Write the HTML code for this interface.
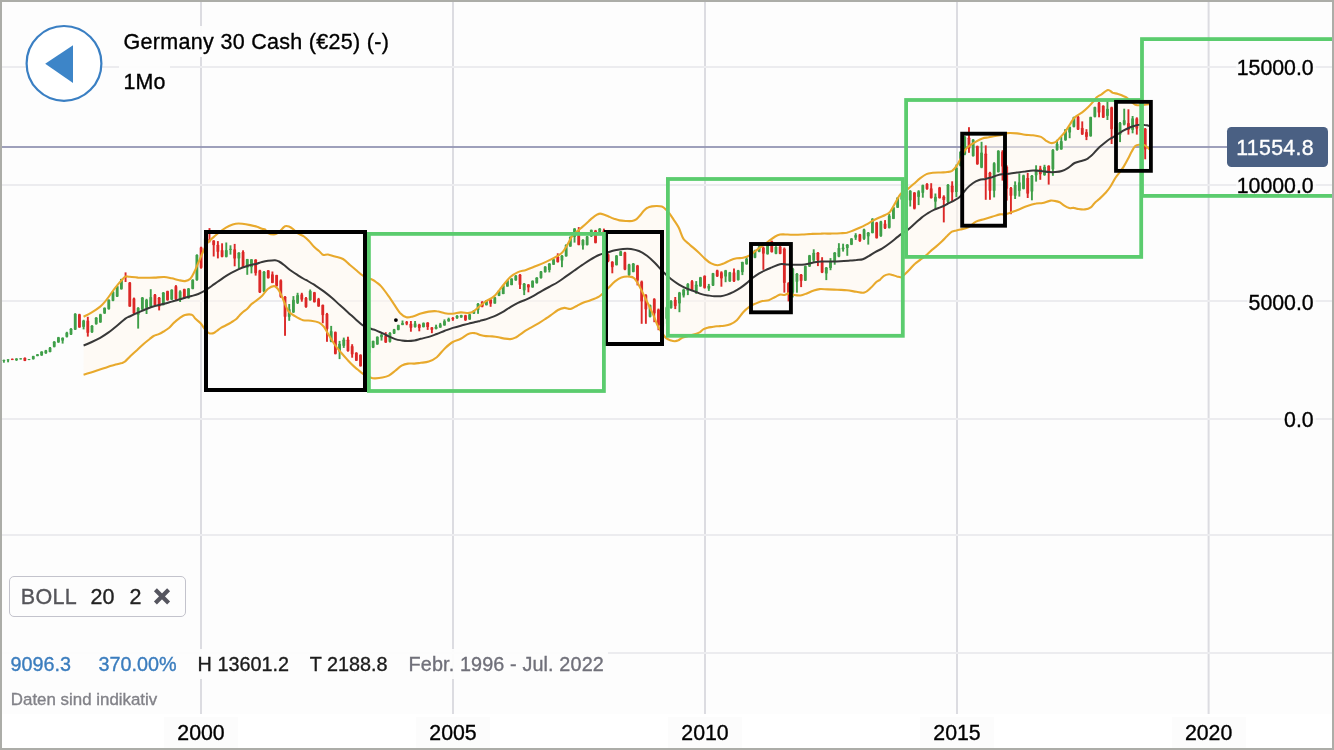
<!DOCTYPE html>
<html><head><meta charset="utf-8"><title>Germany 30 Cash</title>
<style>
html,body{margin:0;padding:0;}
body{width:1334px;height:750px;overflow:hidden;background:#fdfdfd;font-family:"Liberation Sans",sans-serif;position:relative;}
.t{position:absolute;white-space:nowrap;line-height:1;-webkit-text-stroke:0.35px currentColor;}
.ax{font-size:21.3px;color:#000;text-align:right;right:20.3px;width:84px;height:22px;line-height:22px;}
.xl{font-size:21.3px;color:#000;text-align:center;width:74px;background:#fcfcfc;height:32px;line-height:32px;top:716.7px;}
.inf{font-size:19.8px;top:654.6px;}
.bo{font-size:21.5px;top:586.5px;}
</style></head><body>
<div style="position:absolute;left:0;top:714px;width:1334px;height:36px;background:#ffffff"></div>
<svg width="1334" height="750" viewBox="0 0 1334 750" style="position:absolute;left:0;top:0">
<rect x="200.00" y="0" width="2" height="714" fill="#dcdce1"/>
<rect x="452.00" y="0" width="2" height="714" fill="#dcdce1"/>
<rect x="704.00" y="0" width="2" height="714" fill="#dcdce1"/>
<rect x="956.00" y="0" width="2" height="714" fill="#dcdce1"/>
<rect x="1207.60" y="0" width="2" height="714" fill="#dcdce1"/>
<rect x="0" y="66.00" width="1334" height="2" fill="#ececef"/>
<rect x="0" y="184.00" width="1334" height="2" fill="#ececef"/>
<rect x="0" y="300.00" width="1334" height="2" fill="#ececef"/>
<rect x="0" y="418.00" width="1334" height="2" fill="#ececef"/>
<rect x="0" y="534.00" width="1334" height="2" fill="#ececef"/>
<rect x="0" y="652.00" width="1334" height="2" fill="#ececef"/>
<rect x="1236" y="57" width="80" height="20" fill="rgba(253,253,253,0.5)"/>
<rect x="1236" y="175" width="80" height="20" fill="rgba(253,253,253,0.5)"/>
<rect x="1247" y="291" width="69" height="20" fill="rgba(253,253,253,0.5)"/>
<rect x="1281" y="409" width="35" height="20" fill="rgba(253,253,253,0.5)"/>
<rect x="0" y="146.1" width="1230" height="1.8" fill="#9496b4"/>
<polygon points="83.6,316.7 85.6,315.7 87.6,314.6 89.6,313.5 91.6,312.5 93.6,311.1 95.6,309.8 97.6,308.4 99.6,307.0 101.6,305.2 103.6,303.2 105.6,300.9 107.6,298.3 109.6,295.6 111.6,292.7 113.6,290.0 115.6,287.4 117.6,284.9 119.6,282.6 121.6,280.4 123.6,278.4 125.6,276.6 127.6,276.7 129.6,276.8 131.6,277.0 133.6,277.2 135.6,277.4 137.6,277.5 139.6,277.6 141.6,277.7 143.6,277.7 145.6,277.8 147.6,277.8 149.6,277.7 151.6,277.7 153.6,277.6 155.6,277.5 157.6,277.4 159.6,277.3 161.6,277.2 163.6,277.0 165.6,277.3 167.6,277.6 169.6,277.9 171.6,278.3 173.6,278.8 175.6,279.3 177.6,279.8 179.6,280.2 181.6,280.5 183.6,280.8 185.6,280.8 187.6,279.9 189.6,279.0 191.6,276.5 193.6,273.2 195.6,269.0 197.6,264.3 199.6,259.7 201.6,255.0 203.6,250.6 205.6,246.2 207.6,243.2 209.6,240.8 211.6,238.9 213.6,237.1 215.6,235.4 217.6,233.8 219.6,232.2 221.6,230.6 223.6,229.2 225.6,228.0 227.6,226.8 229.6,225.8 231.6,225.1 233.6,224.4 235.6,223.8 237.6,223.7 239.6,223.7 241.6,223.7 243.6,223.9 245.6,224.3 247.6,224.6 249.6,224.9 251.6,225.4 253.6,225.9 255.6,226.4 257.6,227.0 259.6,227.8 261.6,228.6 263.6,229.1 265.6,230.1 267.6,232.5 269.6,233.4 271.6,233.9 273.6,234.4 275.6,233.9 277.6,233.1 279.6,231.4 281.6,229.4 283.6,227.5 285.6,226.2 287.6,226.4 289.6,226.9 291.6,228.1 293.6,229.6 295.6,231.4 297.6,233.2 299.6,234.3 301.6,235.3 303.6,236.3 305.6,238.0 307.6,239.8 309.6,241.7 311.6,244.0 313.6,246.3 315.6,248.2 317.6,249.8 319.6,251.6 321.6,253.5 323.6,254.8 325.6,254.6 327.6,254.5 329.6,255.0 331.6,255.5 333.6,256.1 335.6,256.7 337.6,257.3 339.6,257.9 341.6,258.6 343.6,259.5 345.6,261.2 347.6,263.0 349.6,264.7 351.6,266.3 353.6,268.0 355.6,269.7 357.6,271.3 359.6,273.0 361.6,274.7 363.6,276.0 365.6,277.3 367.6,278.0 369.6,278.7 371.6,279.4 373.6,280.5 375.6,281.8 377.6,283.4 379.6,285.1 381.6,287.0 383.6,289.6 385.6,292.2 387.6,294.8 389.6,297.6 391.6,300.6 393.6,303.6 395.6,306.5 397.6,309.4 399.6,312.3 401.6,314.0 403.6,315.3 405.6,316.7 407.6,317.0 409.6,316.8 411.6,316.5 413.6,316.1 415.6,315.4 417.6,314.7 419.6,313.9 421.6,313.3 423.6,312.8 425.6,312.4 427.6,311.9 429.6,311.6 431.6,311.5 433.6,311.4 435.6,311.3 437.6,311.5 439.6,312.0 441.6,312.4 443.6,312.9 445.6,313.2 447.6,313.4 449.6,313.5 451.6,313.6 453.6,313.6 455.6,313.2 457.6,312.9 459.6,312.6 461.6,312.4 463.6,312.6 465.6,312.7 467.6,312.8 469.6,312.6 471.6,311.9 473.6,311.3 475.6,309.6 477.6,308.0 479.6,306.3 481.6,304.7 483.6,303.1 485.6,301.5 487.6,300.2 489.6,299.0 491.6,297.8 493.6,296.6 495.6,294.5 497.6,292.1 499.6,289.7 501.6,287.3 503.6,284.9 505.6,282.5 507.6,280.1 509.6,277.7 511.6,276.2 513.6,274.9 515.6,273.6 517.6,272.3 519.6,271.7 521.6,271.1 523.6,270.6 525.6,270.1 527.6,269.4 529.6,268.6 531.6,267.8 533.6,267.0 535.6,266.2 537.6,265.4 539.6,264.6 541.6,263.8 543.6,262.9 545.6,261.9 547.6,261.0 549.6,260.1 551.6,259.0 553.6,258.0 555.6,256.9 557.6,255.8 559.6,254.4 561.6,252.8 563.6,250.6 565.6,247.5 567.6,244.4 569.6,240.7 571.6,237.0 573.6,234.5 575.6,232.8 577.6,231.1 579.6,229.3 581.6,227.6 583.6,225.8 585.6,224.0 587.6,222.2 589.6,220.4 591.6,218.6 593.6,217.1 595.6,215.7 597.6,214.5 599.6,213.8 601.6,214.0 603.6,214.6 605.6,215.3 607.6,216.1 609.6,216.9 611.6,217.8 613.6,218.6 615.6,219.2 617.6,219.8 619.6,220.4 621.6,220.6 623.6,220.8 625.6,221.0 627.6,221.0 629.6,221.0 631.6,221.0 633.6,220.4 635.6,219.6 637.6,218.1 639.6,215.8 641.6,213.4 643.6,210.9 645.6,209.2 647.6,207.7 649.6,207.1 651.6,206.4 653.6,206.2 655.6,206.1 657.6,206.2 659.6,206.4 661.6,206.6 663.6,207.8 665.6,209.2 667.6,211.4 669.6,213.6 671.6,216.5 673.6,219.5 675.6,222.6 677.6,225.8 679.6,229.6 681.6,234.4 683.6,238.8 685.6,240.7 687.6,242.6 689.6,244.5 691.6,246.3 693.6,248.0 695.6,249.8 697.6,251.5 699.6,253.4 701.6,255.4 703.6,257.4 705.6,259.2 707.6,260.7 709.6,262.2 711.6,263.5 713.6,264.1 715.6,264.7 717.6,265.3 719.6,264.7 721.6,264.1 723.6,263.5 725.6,262.6 727.6,261.6 729.6,260.6 731.6,259.8 733.6,259.2 735.6,258.6 737.6,258.2 739.6,258.1 741.6,257.9 743.6,257.6 745.6,256.9 747.6,256.1 749.6,255.4 751.6,253.9 753.6,252.4 755.6,250.9 757.6,249.4 759.6,247.9 761.6,246.4 763.6,244.9 765.6,243.4 767.6,241.9 769.6,240.4 771.6,239.0 773.6,237.6 775.6,236.4 777.6,235.6 779.6,234.8 781.6,234.5 783.6,234.4 785.6,234.4 787.6,234.5 789.6,234.6 791.6,234.6 793.6,234.7 795.6,234.6 797.6,234.6 799.6,234.6 801.6,234.5 803.6,234.4 805.6,234.3 807.6,234.1 809.6,234.0 811.6,233.9 813.6,233.8 815.6,233.7 817.6,233.7 819.6,233.6 821.6,233.6 823.6,233.6 825.6,233.6 827.6,233.6 829.6,233.6 831.6,233.5 833.6,233.5 835.6,233.4 837.6,233.3 839.6,233.3 841.6,233.1 843.6,233.0 845.6,232.8 847.6,232.5 849.6,231.8 851.6,231.1 853.6,230.3 855.6,229.5 857.6,228.6 859.6,227.8 861.6,226.8 863.6,225.8 865.6,224.8 867.6,223.7 869.6,222.5 871.6,221.4 873.6,220.3 875.6,219.3 877.6,218.3 879.6,217.4 881.6,216.5 883.6,215.7 885.6,214.7 887.6,213.4 889.6,212.1 891.6,209.1 893.6,205.7 895.6,202.3 897.6,198.9 899.6,195.6 901.6,193.1 903.6,191.7 905.6,190.4 907.6,189.1 909.6,187.4 911.6,185.7 913.6,184.0 915.6,182.2 917.6,180.5 919.6,178.7 921.6,177.3 923.6,176.0 925.6,174.6 927.6,173.8 929.6,173.4 931.6,173.0 933.6,172.8 935.6,172.7 937.6,172.6 939.6,172.5 941.6,172.4 943.6,172.3 945.6,172.1 947.6,171.9 949.6,171.4 951.6,171.0 953.6,169.1 955.6,166.9 957.6,164.2 959.6,160.7 961.6,156.8 963.6,152.8 965.6,149.6 967.6,147.6 969.6,145.6 971.6,144.3 973.6,143.1 975.6,141.8 977.6,140.8 979.6,139.8 981.6,138.8 983.6,138.2 985.6,137.8 987.6,137.5 989.6,137.1 991.6,136.7 993.6,136.3 995.6,135.9 997.6,135.6 999.6,135.3 1001.6,134.7 1003.6,134.2 1005.6,133.6 1007.6,133.1 1009.6,133.2 1011.6,133.2 1013.6,133.3 1015.6,133.4 1017.6,133.5 1019.6,133.8 1021.6,134.1 1023.6,134.5 1025.6,134.7 1027.6,134.9 1029.6,135.0 1031.6,135.2 1033.6,135.4 1035.6,135.8 1037.6,136.2 1039.6,136.6 1041.6,137.4 1043.6,138.9 1045.6,140.5 1047.6,141.5 1049.6,142.5 1051.6,142.8 1053.6,142.5 1055.6,142.0 1057.6,140.0 1059.6,138.0 1061.6,135.8 1063.6,133.4 1065.6,130.9 1067.6,127.9 1069.6,124.9 1071.6,121.9 1073.6,118.9 1075.6,116.7 1077.6,115.4 1079.6,114.1 1081.6,112.7 1083.6,111.1 1085.6,109.4 1087.6,107.7 1089.6,105.6 1091.6,103.4 1093.6,101.2 1095.6,98.7 1097.6,96.7 1099.6,95.5 1101.6,94.2 1103.6,92.9 1105.6,91.6 1107.6,90.3 1109.6,90.9 1111.6,92.1 1113.6,92.9 1115.6,93.4 1117.6,93.9 1119.6,94.6 1121.6,95.4 1123.6,96.1 1125.6,97.1 1127.6,98.3 1129.6,100.3 1131.6,102.2 1133.6,103.5 1135.6,104.7 1137.6,105.0 1139.6,105.3 1141.6,105.0 1143.6,104.8 1145.6,104.6 1147.6,104.3 1147.6,147.7 1145.6,145.9 1143.6,145.0 1141.6,144.8 1139.6,144.7 1137.6,145.2 1135.6,145.9 1133.6,148.7 1131.6,151.8 1129.6,155.7 1127.6,159.6 1125.6,163.2 1123.6,166.7 1121.6,169.5 1119.6,172.3 1117.6,174.9 1115.6,177.5 1113.6,180.9 1111.6,184.4 1109.6,187.7 1107.6,190.2 1105.6,192.7 1103.6,194.8 1101.6,196.8 1099.6,198.8 1097.6,200.5 1095.6,202.1 1093.6,204.1 1091.6,206.4 1089.6,207.7 1087.6,208.5 1085.6,209.2 1083.6,209.3 1081.6,209.2 1079.6,209.1 1077.6,208.8 1075.6,208.3 1073.6,207.9 1071.6,208.0 1069.6,208.1 1067.6,207.3 1065.6,206.3 1063.6,205.2 1061.6,203.7 1059.6,202.3 1057.6,201.6 1055.6,201.2 1053.6,201.0 1051.6,200.7 1049.6,200.9 1047.6,201.5 1045.6,202.1 1043.6,202.7 1041.6,203.1 1039.6,203.2 1037.6,203.4 1035.6,203.6 1033.6,204.2 1031.6,204.8 1029.6,205.3 1027.6,205.9 1025.6,206.6 1023.6,207.4 1021.6,208.3 1019.6,209.1 1017.6,209.9 1015.6,210.7 1013.6,211.4 1011.6,212.1 1009.6,212.8 1007.6,213.6 1005.6,214.2 1003.6,214.3 1001.6,214.3 999.6,214.5 997.6,215.1 995.6,215.7 993.6,216.3 991.6,216.9 989.6,217.5 987.6,218.1 985.6,218.7 983.6,219.3 981.6,219.9 979.6,220.5 977.6,221.1 975.6,221.9 973.6,223.3 971.6,224.8 969.6,226.2 967.6,227.4 965.6,228.0 963.6,228.6 961.6,229.2 959.6,229.7 957.6,230.1 955.6,230.6 953.6,231.2 951.6,232.0 949.6,233.8 947.6,235.6 945.6,237.5 943.6,239.5 941.6,241.5 939.6,243.3 937.6,245.2 935.6,246.9 933.6,248.6 931.6,250.3 929.6,252.1 927.6,253.9 925.6,255.7 923.6,257.2 921.6,258.7 919.6,260.2 917.6,261.7 915.6,263.2 913.6,265.2 911.6,267.3 909.6,269.5 907.6,271.5 905.6,273.5 903.6,275.2 901.6,276.7 899.6,276.9 897.6,276.6 895.6,276.0 893.6,275.3 891.6,274.8 889.6,274.4 887.6,274.7 885.6,275.3 883.6,276.2 881.6,278.2 879.6,280.0 877.6,281.2 875.6,282.7 873.6,284.8 871.6,286.9 869.6,288.7 867.6,290.2 865.6,291.7 863.6,292.5 861.6,292.3 859.6,292.1 857.6,291.9 855.6,291.7 853.6,291.3 851.6,291.0 849.6,290.7 847.6,290.3 845.6,290.1 843.6,290.0 841.6,289.9 839.6,289.8 837.6,289.7 835.6,289.7 833.6,289.6 831.6,289.5 829.6,289.5 827.6,289.4 825.6,289.3 823.6,289.2 821.6,289.2 819.6,289.1 817.6,289.6 815.6,290.1 813.6,290.6 811.6,291.4 809.6,292.2 807.6,293.1 805.6,293.8 803.6,294.4 801.6,295.1 799.6,295.4 797.6,295.3 795.6,295.1 793.6,294.9 791.6,294.3 789.6,293.6 787.6,293.9 785.6,294.6 783.6,294.9 781.6,294.7 779.6,294.8 777.6,295.8 775.6,296.8 773.6,297.8 771.6,298.8 769.6,299.8 767.6,300.3 765.6,300.6 763.6,300.8 761.6,301.3 759.6,302.0 757.6,302.8 755.6,303.6 753.6,304.6 751.6,305.6 749.6,306.6 747.6,308.3 745.6,310.1 743.6,311.8 741.6,314.2 739.6,316.7 737.6,319.2 735.6,320.9 733.6,322.2 731.6,323.4 729.6,324.4 727.6,324.9 725.6,325.4 723.6,325.8 721.6,326.0 719.6,326.1 717.6,326.2 715.6,326.5 713.6,326.8 711.6,327.1 709.6,327.4 707.6,327.7 705.6,328.4 703.6,329.2 701.6,330.8 699.6,332.3 697.6,333.2 695.6,333.9 693.6,334.5 691.6,335.1 689.6,335.7 687.6,336.2 685.6,336.8 683.6,337.4 681.6,338.1 679.6,339.5 677.6,340.5 675.6,341.0 673.6,341.0 671.6,340.7 669.6,339.8 667.6,338.7 665.6,337.7 663.6,334.9 661.6,331.9 659.6,329.0 657.6,325.4 655.6,320.5 653.6,315.6 651.6,311.4 649.6,307.1 647.6,303.0 645.6,298.8 643.6,294.6 641.6,290.6 639.6,286.6 637.6,283.3 635.6,280.3 633.6,278.0 631.6,277.3 629.6,276.7 627.6,276.8 625.6,277.0 623.6,277.2 621.6,277.4 619.6,278.5 617.6,279.8 615.6,281.0 613.6,282.8 611.6,284.8 609.6,286.8 607.6,288.8 605.6,290.8 603.6,292.8 601.6,294.4 599.6,296.1 597.6,297.2 595.6,298.0 593.6,298.9 591.6,299.7 589.6,300.5 587.6,301.2 585.6,301.8 583.6,302.5 581.6,303.5 579.6,304.5 577.6,305.5 575.6,306.5 573.6,307.5 571.6,308.5 569.6,308.7 567.6,308.4 565.6,308.1 563.6,308.2 561.6,308.8 559.6,309.5 557.6,310.3 555.6,311.8 553.6,313.2 551.6,314.7 549.6,316.1 547.6,317.5 545.6,318.8 543.6,320.1 541.6,321.4 539.6,322.7 537.6,323.8 535.6,325.0 533.6,326.1 531.6,327.2 529.6,328.4 527.6,329.5 525.6,330.7 523.6,332.1 521.6,333.5 519.6,334.9 517.6,336.2 515.6,337.4 513.6,338.2 511.6,338.7 509.6,339.1 507.6,338.9 505.6,338.7 503.6,338.3 501.6,337.9 499.6,337.5 497.6,337.2 495.6,336.9 493.6,336.6 491.6,336.4 489.6,336.3 487.6,336.2 485.6,336.1 483.6,335.6 481.6,335.2 479.6,334.7 477.6,334.0 475.6,333.3 473.6,333.3 471.6,333.5 469.6,333.6 467.6,334.4 465.6,335.7 463.6,337.0 461.6,338.3 459.6,339.3 457.6,340.1 455.6,340.9 453.6,341.7 451.6,343.0 449.6,344.6 447.6,346.2 445.6,347.8 443.6,349.7 441.6,351.9 439.6,354.1 437.6,356.3 435.6,357.8 433.6,358.9 431.6,360.0 429.6,361.1 427.6,361.7 425.6,362.0 423.6,362.4 421.6,362.7 419.6,362.9 417.6,363.2 415.6,363.4 413.6,363.6 411.6,363.6 409.6,363.6 407.6,363.7 405.6,364.4 403.6,365.0 401.6,365.7 399.6,367.3 397.6,368.9 395.6,370.5 393.6,372.0 391.6,373.5 389.6,375.0 387.6,376.0 385.6,376.6 383.6,377.2 381.6,377.6 379.6,377.9 377.6,378.1 375.6,378.4 373.6,378.1 371.6,377.9 369.6,377.1 367.6,376.1 365.6,375.1 363.6,374.1 361.6,372.7 359.6,371.1 357.6,369.4 355.6,367.8 353.6,366.0 351.6,364.0 349.6,362.0 347.6,360.0 345.6,357.7 343.6,355.5 341.6,353.2 339.6,350.8 337.6,348.3 335.6,345.8 333.6,342.7 331.6,339.5 329.6,336.2 327.6,333.0 325.6,329.6 323.6,326.4 321.6,324.8 319.6,323.1 317.6,322.3 315.6,321.8 313.6,321.3 311.6,320.8 309.6,320.6 307.6,320.5 305.6,320.4 303.6,320.2 301.6,319.5 299.6,318.5 297.6,317.5 295.6,316.5 293.6,315.2 291.6,313.7 289.6,312.2 287.6,309.3 285.6,304.9 283.6,300.6 281.6,296.3 279.6,291.9 277.6,289.3 275.6,287.4 273.6,286.4 271.6,287.3 269.6,288.2 267.6,289.2 265.6,291.6 263.6,294.0 261.6,296.3 259.6,297.9 257.6,299.5 255.6,301.1 253.6,302.6 251.6,304.1 249.6,306.2 247.6,308.4 245.6,310.0 243.6,311.5 241.6,313.4 239.6,315.4 237.6,317.6 235.6,319.6 233.6,320.9 231.6,322.2 229.6,323.3 227.6,324.4 225.6,325.5 223.6,326.5 221.6,327.5 219.6,328.9 217.6,330.3 215.6,331.6 213.6,332.8 211.6,333.3 209.6,332.9 207.6,331.9 205.6,329.9 203.6,327.4 201.6,324.6 199.6,322.3 197.6,320.6 195.6,319.0 193.6,316.8 191.6,314.8 189.6,314.8 187.6,314.9 185.6,314.9 183.6,315.7 181.6,316.9 179.6,318.1 177.6,319.7 175.6,321.3 173.6,323.1 171.6,325.2 169.6,327.2 167.6,328.8 165.6,330.1 163.6,331.5 161.6,332.5 159.6,333.6 157.6,334.6 155.6,335.2 153.6,336.0 151.6,337.5 149.6,339.0 147.6,340.7 145.6,342.4 143.6,344.0 141.6,345.8 139.6,347.7 137.6,349.5 135.6,351.3 133.6,353.2 131.6,355.0 129.6,356.9 127.6,358.9 125.6,360.9 123.6,362.1 121.6,363.1 119.6,363.6 117.6,364.1 115.6,364.6 113.6,365.2 111.6,365.8 109.6,366.4 107.6,367.0 105.6,367.7 103.6,368.3 101.6,368.9 99.6,369.5 97.6,370.2 95.6,370.9 93.6,371.6 91.6,372.4 89.6,373.0 87.6,373.6 85.6,374.1 83.6,374.7" fill="rgba(255,248,238,0.55)"/>
<rect x="2.94" y="359.8" width="1.9" height="2.9" fill="#3f9f49"/>
<rect x="2.49" y="359.8" width="2.8" height="1.2" rx="0.7" fill="#3f9f49"/>
<rect x="7.13" y="359.3" width="1.9" height="3.0" fill="#3f9f49"/>
<rect x="6.68" y="359.2" width="2.8" height="1.2" rx="0.7" fill="#3f9f49"/>
<rect x="11.33" y="358.6" width="1.9" height="1.5" fill="#dc2827"/>
<rect x="10.88" y="358.7" width="2.8" height="1.2" rx="0.7" fill="#dc2827"/>
<rect x="15.53" y="358.2" width="1.9" height="2.7" fill="#3f9f49"/>
<rect x="15.08" y="358.4" width="2.8" height="1.9" rx="0.7" fill="#3f9f49"/>
<rect x="19.72" y="358.2" width="1.9" height="1.1" fill="#3f9f49"/>
<rect x="19.27" y="358.2" width="2.8" height="1.2" rx="0.7" fill="#3f9f49"/>
<rect x="23.92" y="357.5" width="1.9" height="3.6" fill="#dc2827"/>
<rect x="23.47" y="357.7" width="2.8" height="3.2" rx="0.7" fill="#dc2827"/>
<rect x="28.11" y="359.1" width="1.9" height="1.0" fill="#3f9f49"/>
<rect x="27.66" y="358.9" width="2.8" height="1.2" rx="0.7" fill="#3f9f49"/>
<rect x="32.31" y="355.8" width="1.9" height="3.7" fill="#3f9f49"/>
<rect x="31.86" y="356.1" width="2.8" height="3.2" rx="0.7" fill="#3f9f49"/>
<rect x="36.51" y="354.0" width="1.9" height="2.3" fill="#3f9f49"/>
<rect x="36.06" y="354.2" width="2.8" height="1.9" rx="0.7" fill="#3f9f49"/>
<rect x="40.70" y="351.3" width="1.9" height="4.5" fill="#3f9f49"/>
<rect x="40.25" y="351.6" width="2.8" height="3.9" rx="0.7" fill="#3f9f49"/>
<rect x="44.90" y="349.9" width="1.9" height="3.8" fill="#3f9f49"/>
<rect x="44.45" y="350.2" width="2.8" height="3.2" rx="0.7" fill="#3f9f49"/>
<rect x="49.09" y="347.0" width="1.9" height="5.3" fill="#3f9f49"/>
<rect x="48.64" y="347.4" width="2.8" height="4.7" rx="0.7" fill="#3f9f49"/>
<rect x="53.29" y="341.2" width="1.9" height="6.2" fill="#3f9f49"/>
<rect x="52.84" y="341.5" width="2.8" height="5.5" rx="0.7" fill="#3f9f49"/>
<rect x="57.49" y="336.9" width="1.9" height="5.9" fill="#3f9f49"/>
<rect x="57.04" y="337.2" width="2.8" height="5.2" rx="0.7" fill="#3f9f49"/>
<rect x="61.68" y="337.4" width="1.9" height="6.2" fill="#3f9f49"/>
<rect x="61.23" y="337.7" width="2.8" height="3.0" rx="0.7" fill="#3f9f49"/>
<rect x="65.88" y="331.8" width="1.9" height="5.7" fill="#3f9f49"/>
<rect x="65.43" y="332.4" width="2.8" height="4.5" rx="0.7" fill="#3f9f49"/>
<rect x="70.07" y="328.2" width="1.9" height="6.8" fill="#3f9f49"/>
<rect x="69.62" y="328.6" width="2.8" height="6.0" rx="0.7" fill="#3f9f49"/>
<rect x="74.27" y="313.2" width="1.9" height="16.7" fill="#3f9f49"/>
<rect x="73.82" y="313.7" width="2.8" height="16.0" rx="0.7" fill="#3f9f49"/>
<rect x="78.47" y="313.8" width="1.9" height="14.0" fill="#dc2827"/>
<rect x="78.02" y="314.2" width="2.8" height="13.3" rx="0.7" fill="#dc2827"/>
<rect x="82.66" y="319.8" width="1.9" height="9.6" fill="#3f9f49"/>
<rect x="82.21" y="320.4" width="2.8" height="6.6" rx="0.7" fill="#3f9f49"/>
<rect x="86.86" y="316.8" width="1.9" height="19.8" fill="#dc2827"/>
<rect x="86.41" y="320.4" width="2.8" height="12.6" rx="0.7" fill="#dc2827"/>
<rect x="91.05" y="325.2" width="1.9" height="7.6" fill="#3f9f49"/>
<rect x="90.60" y="325.6" width="2.8" height="6.8" rx="0.7" fill="#3f9f49"/>
<rect x="95.25" y="317.2" width="1.9" height="7.4" fill="#3f9f49"/>
<rect x="94.80" y="317.5" width="2.8" height="6.7" rx="0.7" fill="#3f9f49"/>
<rect x="99.45" y="313.8" width="1.9" height="9.0" fill="#3f9f49"/>
<rect x="99.00" y="314.2" width="2.8" height="8.3" rx="0.7" fill="#3f9f49"/>
<rect x="103.64" y="307.5" width="1.9" height="6.4" fill="#3f9f49"/>
<rect x="103.19" y="307.8" width="2.8" height="5.6" rx="0.7" fill="#3f9f49"/>
<rect x="107.84" y="299.4" width="1.9" height="10.2" fill="#3f9f49"/>
<rect x="107.39" y="299.8" width="2.8" height="9.5" rx="0.7" fill="#3f9f49"/>
<rect x="112.03" y="291.0" width="1.9" height="10.2" fill="#3f9f49"/>
<rect x="111.58" y="291.4" width="2.8" height="9.5" rx="0.7" fill="#3f9f49"/>
<rect x="116.23" y="285.6" width="1.9" height="11.4" fill="#3f9f49"/>
<rect x="115.78" y="286.0" width="2.8" height="10.7" rx="0.7" fill="#3f9f49"/>
<rect x="120.43" y="278.8" width="1.9" height="10.8" fill="#3f9f49"/>
<rect x="119.98" y="279.1" width="2.8" height="10.1" rx="0.7" fill="#3f9f49"/>
<rect x="124.62" y="272.4" width="1.9" height="9.6" fill="#dc2827"/>
<rect x="124.17" y="276.4" width="2.8" height="1.2" rx="0.7" fill="#dc2827"/>
<rect x="128.82" y="282.0" width="1.9" height="24.8" fill="#dc2827"/>
<rect x="128.37" y="282.4" width="2.8" height="24.2" rx="0.7" fill="#dc2827"/>
<rect x="133.01" y="297.6" width="1.9" height="16.8" fill="#dc2827"/>
<rect x="132.56" y="298.2" width="2.8" height="15.6" rx="0.7" fill="#dc2827"/>
<rect x="137.21" y="307.2" width="1.9" height="21.4" fill="#3f9f49"/>
<rect x="136.76" y="307.8" width="2.8" height="7.2" rx="0.7" fill="#3f9f49"/>
<rect x="141.41" y="297.0" width="1.9" height="13.2" fill="#3f9f49"/>
<rect x="140.96" y="297.6" width="2.8" height="12.0" rx="0.7" fill="#3f9f49"/>
<rect x="145.60" y="298.8" width="1.9" height="15.2" fill="#3f9f49"/>
<rect x="145.15" y="299.7" width="2.8" height="8.2" rx="0.7" fill="#3f9f49"/>
<rect x="149.80" y="289.2" width="1.9" height="18.0" fill="#3f9f49"/>
<rect x="149.35" y="297.0" width="2.8" height="9.6" rx="0.7" fill="#3f9f49"/>
<rect x="153.99" y="294.0" width="1.9" height="11.4" fill="#dc2827"/>
<rect x="153.54" y="294.4" width="2.8" height="10.7" rx="0.7" fill="#dc2827"/>
<rect x="158.19" y="297.0" width="1.9" height="13.4" fill="#dc2827"/>
<rect x="157.74" y="297.6" width="2.8" height="9.0" rx="0.7" fill="#dc2827"/>
<rect x="162.39" y="292.0" width="1.9" height="13.4" fill="#3f9f49"/>
<rect x="161.94" y="292.5" width="2.8" height="12.6" rx="0.7" fill="#3f9f49"/>
<rect x="166.58" y="290.7" width="1.9" height="10.0" fill="#dc2827"/>
<rect x="166.13" y="291.1" width="2.8" height="9.2" rx="0.7" fill="#dc2827"/>
<rect x="170.78" y="289.3" width="1.9" height="10.7" fill="#3f9f49"/>
<rect x="170.33" y="289.7" width="2.8" height="9.9" rx="0.7" fill="#3f9f49"/>
<rect x="174.97" y="285.1" width="1.9" height="14.9" fill="#dc2827"/>
<rect x="174.52" y="286.0" width="2.8" height="13.3" rx="0.7" fill="#dc2827"/>
<rect x="179.17" y="290.3" width="1.9" height="11.7" fill="#3f9f49"/>
<rect x="178.72" y="291.3" width="2.8" height="8.7" rx="0.7" fill="#3f9f49"/>
<rect x="183.37" y="288.7" width="1.9" height="10.0" fill="#dc2827"/>
<rect x="182.92" y="289.1" width="2.8" height="9.2" rx="0.7" fill="#dc2827"/>
<rect x="187.56" y="288.0" width="1.9" height="10.7" fill="#3f9f49"/>
<rect x="187.11" y="288.4" width="2.8" height="9.9" rx="0.7" fill="#3f9f49"/>
<rect x="191.76" y="279.3" width="1.9" height="10.0" fill="#3f9f49"/>
<rect x="191.31" y="279.7" width="2.8" height="9.2" rx="0.7" fill="#3f9f49"/>
<rect x="195.95" y="254.4" width="1.9" height="26.3" fill="#3f9f49"/>
<rect x="195.50" y="254.8" width="2.8" height="25.5" rx="0.7" fill="#3f9f49"/>
<rect x="200.15" y="246.7" width="1.9" height="22.0" fill="#dc2827"/>
<rect x="199.70" y="247.3" width="2.8" height="20.7" rx="0.7" fill="#dc2827"/>
<rect x="204.35" y="236.0" width="1.9" height="20.0" fill="#3f9f49"/>
<rect x="203.90" y="238.0" width="2.8" height="16.9" rx="0.7" fill="#3f9f49"/>
<rect x="208.54" y="228.1" width="1.9" height="14.3" fill="#dc2827"/>
<rect x="208.09" y="239.2" width="2.8" height="1.2" rx="0.7" fill="#dc2827"/>
<rect x="212.74" y="240.2" width="1.9" height="16.3" fill="#dc2827"/>
<rect x="212.29" y="240.4" width="2.8" height="4.9" rx="0.7" fill="#dc2827"/>
<rect x="216.93" y="241.1" width="1.9" height="17.3" fill="#dc2827"/>
<rect x="216.48" y="244.8" width="2.8" height="7.1" rx="0.7" fill="#dc2827"/>
<rect x="221.13" y="243.3" width="1.9" height="14.0" fill="#dc2827"/>
<rect x="220.68" y="250.0" width="2.8" height="7.0" rx="0.7" fill="#dc2827"/>
<rect x="225.33" y="242.5" width="1.9" height="14.9" fill="#3f9f49"/>
<rect x="224.88" y="250.0" width="2.8" height="7.0" rx="0.7" fill="#3f9f49"/>
<rect x="229.52" y="245.3" width="1.9" height="9.3" fill="#3f9f49"/>
<rect x="229.07" y="248.7" width="2.8" height="1.2" rx="0.7" fill="#3f9f49"/>
<rect x="233.72" y="243.9" width="1.9" height="22.4" fill="#dc2827"/>
<rect x="233.27" y="249.3" width="2.8" height="9.3" rx="0.7" fill="#dc2827"/>
<rect x="237.91" y="252.3" width="1.9" height="16.3" fill="#3f9f49"/>
<rect x="237.46" y="252.6" width="2.8" height="6.0" rx="0.7" fill="#3f9f49"/>
<rect x="242.11" y="250.3" width="1.9" height="17.5" fill="#dc2827"/>
<rect x="241.66" y="251.7" width="2.8" height="15.9" rx="0.7" fill="#dc2827"/>
<rect x="246.31" y="258.9" width="1.9" height="15.9" fill="#3f9f49"/>
<rect x="245.86" y="259.1" width="2.8" height="8.7" rx="0.7" fill="#3f9f49"/>
<rect x="250.50" y="259.2" width="1.9" height="14.2" fill="#3f9f49"/>
<rect x="250.05" y="259.3" width="2.8" height="7.9" rx="0.7" fill="#3f9f49"/>
<rect x="254.70" y="259.3" width="1.9" height="16.3" fill="#dc2827"/>
<rect x="254.25" y="259.5" width="2.8" height="13.8" rx="0.7" fill="#dc2827"/>
<rect x="258.89" y="269.8" width="1.9" height="23.2" fill="#dc2827"/>
<rect x="258.44" y="270.3" width="2.8" height="22.2" rx="0.7" fill="#dc2827"/>
<rect x="263.09" y="271.1" width="1.9" height="21.1" fill="#3f9f49"/>
<rect x="262.64" y="271.6" width="2.8" height="20.2" rx="0.7" fill="#3f9f49"/>
<rect x="267.29" y="270.1" width="1.9" height="8.4" fill="#dc2827"/>
<rect x="266.84" y="270.3" width="2.8" height="8.0" rx="0.7" fill="#dc2827"/>
<rect x="271.48" y="271.5" width="1.9" height="11.7" fill="#dc2827"/>
<rect x="271.03" y="274.3" width="2.8" height="8.6" rx="0.7" fill="#dc2827"/>
<rect x="275.68" y="274.8" width="1.9" height="11.7" fill="#dc2827"/>
<rect x="275.23" y="275.0" width="2.8" height="11.2" rx="0.7" fill="#dc2827"/>
<rect x="279.87" y="279.4" width="1.9" height="18.4" fill="#dc2827"/>
<rect x="279.42" y="280.2" width="2.8" height="16.8" rx="0.7" fill="#dc2827"/>
<rect x="284.07" y="296.1" width="1.9" height="39.7" fill="#dc2827"/>
<rect x="283.62" y="296.5" width="2.8" height="20.5" rx="0.7" fill="#dc2827"/>
<rect x="288.27" y="304.0" width="1.9" height="16.8" fill="#3f9f49"/>
<rect x="287.82" y="309.1" width="2.8" height="7.9" rx="0.7" fill="#3f9f49"/>
<rect x="292.46" y="296.1" width="1.9" height="16.8" fill="#3f9f49"/>
<rect x="292.01" y="299.8" width="2.8" height="12.6" rx="0.7" fill="#3f9f49"/>
<rect x="296.66" y="292.8" width="1.9" height="11.2" fill="#3f9f49"/>
<rect x="296.21" y="295.1" width="2.8" height="7.9" rx="0.7" fill="#3f9f49"/>
<rect x="300.85" y="292.8" width="1.9" height="8.9" fill="#dc2827"/>
<rect x="300.40" y="294.2" width="2.8" height="5.6" rx="0.7" fill="#dc2827"/>
<rect x="305.05" y="297.0" width="1.9" height="10.7" fill="#dc2827"/>
<rect x="304.60" y="297.9" width="2.8" height="9.3" rx="0.7" fill="#dc2827"/>
<rect x="309.25" y="289.5" width="1.9" height="11.2" fill="#3f9f49"/>
<rect x="308.80" y="290.9" width="2.8" height="9.3" rx="0.7" fill="#3f9f49"/>
<rect x="313.44" y="291.9" width="1.9" height="10.7" fill="#dc2827"/>
<rect x="312.99" y="292.3" width="2.8" height="9.8" rx="0.7" fill="#dc2827"/>
<rect x="317.64" y="297.9" width="1.9" height="8.9" fill="#dc2827"/>
<rect x="317.19" y="298.9" width="2.8" height="7.5" rx="0.7" fill="#dc2827"/>
<rect x="321.83" y="304.5" width="1.9" height="18.7" fill="#dc2827"/>
<rect x="321.38" y="304.9" width="2.8" height="10.3" rx="0.7" fill="#dc2827"/>
<rect x="326.03" y="312.9" width="1.9" height="28.9" fill="#dc2827"/>
<rect x="325.58" y="313.8" width="2.8" height="15.4" rx="0.7" fill="#dc2827"/>
<rect x="330.23" y="325.9" width="1.9" height="16.3" fill="#3f9f49"/>
<rect x="329.78" y="331.1" width="2.8" height="10.7" rx="0.7" fill="#3f9f49"/>
<rect x="334.42" y="331.5" width="1.9" height="22.9" fill="#dc2827"/>
<rect x="333.97" y="332.0" width="2.8" height="21.9" rx="0.7" fill="#dc2827"/>
<rect x="338.62" y="340.9" width="1.9" height="18.2" fill="#3f9f49"/>
<rect x="338.17" y="343.7" width="2.8" height="7.9" rx="0.7" fill="#3f9f49"/>
<rect x="342.81" y="337.6" width="1.9" height="10.3" fill="#3f9f49"/>
<rect x="342.36" y="339.5" width="2.8" height="6.5" rx="0.7" fill="#3f9f49"/>
<rect x="347.01" y="336.7" width="1.9" height="14.9" fill="#dc2827"/>
<rect x="346.56" y="339.5" width="2.8" height="11.7" rx="0.7" fill="#dc2827"/>
<rect x="351.21" y="344.2" width="1.9" height="13.5" fill="#dc2827"/>
<rect x="350.76" y="346.0" width="2.8" height="8.4" rx="0.7" fill="#dc2827"/>
<rect x="355.40" y="352.2" width="1.9" height="8.8" fill="#dc2827"/>
<rect x="354.95" y="352.7" width="2.8" height="8.0" rx="0.7" fill="#dc2827"/>
<rect x="359.60" y="354.3" width="1.9" height="12.3" fill="#dc2827"/>
<rect x="359.15" y="354.8" width="2.8" height="11.4" rx="0.7" fill="#dc2827"/>
<rect x="363.79" y="350.0" width="1.9" height="16.0" fill="#3f9f49"/>
<rect x="363.34" y="350.8" width="2.8" height="12.8" rx="0.7" fill="#3f9f49"/>
<rect x="367.99" y="345.2" width="1.9" height="8.8" fill="#3f9f49"/>
<rect x="367.54" y="346.0" width="2.8" height="7.2" rx="0.7" fill="#3f9f49"/>
<rect x="372.19" y="340.6" width="1.9" height="7.5" fill="#3f9f49"/>
<rect x="371.74" y="340.9" width="2.8" height="6.9" rx="0.7" fill="#3f9f49"/>
<rect x="376.38" y="336.4" width="1.9" height="8.4" fill="#3f9f49"/>
<rect x="375.93" y="336.7" width="2.8" height="7.8" rx="0.7" fill="#3f9f49"/>
<rect x="380.58" y="334.1" width="1.9" height="6.5" fill="#3f9f49"/>
<rect x="380.13" y="334.4" width="2.8" height="2.8" rx="0.7" fill="#3f9f49"/>
<rect x="384.77" y="332.2" width="1.9" height="10.7" fill="#dc2827"/>
<rect x="384.32" y="335.9" width="2.8" height="6.5" rx="0.7" fill="#dc2827"/>
<rect x="388.97" y="332.2" width="1.9" height="10.3" fill="#3f9f49"/>
<rect x="388.52" y="332.7" width="2.8" height="9.3" rx="0.7" fill="#3f9f49"/>
<rect x="393.17" y="328.9" width="1.9" height="5.1" fill="#3f9f49"/>
<rect x="392.72" y="329.2" width="2.8" height="4.6" rx="0.7" fill="#3f9f49"/>
<rect x="397.36" y="324.7" width="1.9" height="5.6" fill="#3f9f49"/>
<rect x="396.91" y="325.0" width="2.8" height="5.0" rx="0.7" fill="#3f9f49"/>
<rect x="401.56" y="320.5" width="1.9" height="4.7" fill="#3f9f49"/>
<rect x="401.11" y="322.9" width="2.8" height="2.1" rx="0.7" fill="#3f9f49"/>
<rect x="405.75" y="321.0" width="1.9" height="4.2" fill="#dc2827"/>
<rect x="405.30" y="321.9" width="2.8" height="1.9" rx="0.7" fill="#dc2827"/>
<rect x="409.95" y="321.0" width="1.9" height="10.7" fill="#dc2827"/>
<rect x="409.50" y="323.8" width="2.8" height="4.2" rx="0.7" fill="#dc2827"/>
<rect x="414.15" y="321.0" width="1.9" height="6.5" fill="#3f9f49"/>
<rect x="413.70" y="323.3" width="2.8" height="3.9" rx="0.7" fill="#3f9f49"/>
<rect x="418.34" y="323.8" width="1.9" height="7.5" fill="#dc2827"/>
<rect x="417.89" y="324.5" width="2.8" height="3.5" rx="0.7" fill="#dc2827"/>
<rect x="422.54" y="322.4" width="1.9" height="5.1" fill="#3f9f49"/>
<rect x="422.09" y="322.9" width="2.8" height="4.2" rx="0.7" fill="#3f9f49"/>
<rect x="426.73" y="322.2" width="1.9" height="7.7" fill="#dc2827"/>
<rect x="426.28" y="322.6" width="2.8" height="4.5" rx="0.7" fill="#dc2827"/>
<rect x="430.93" y="327.1" width="1.9" height="6.1" fill="#dc2827"/>
<rect x="430.48" y="327.3" width="2.8" height="2.6" rx="0.7" fill="#dc2827"/>
<rect x="435.13" y="324.7" width="1.9" height="4.7" fill="#3f9f49"/>
<rect x="434.68" y="326.6" width="2.8" height="2.5" rx="0.7" fill="#3f9f49"/>
<rect x="439.32" y="322.9" width="1.9" height="4.9" fill="#3f9f49"/>
<rect x="438.87" y="324.3" width="2.8" height="3.3" rx="0.7" fill="#3f9f49"/>
<rect x="443.52" y="319.4" width="1.9" height="6.3" fill="#3f9f49"/>
<rect x="443.07" y="321.0" width="2.8" height="4.4" rx="0.7" fill="#3f9f49"/>
<rect x="447.71" y="317.7" width="1.9" height="3.9" fill="#3f9f49"/>
<rect x="447.26" y="318.7" width="2.8" height="2.8" rx="0.7" fill="#3f9f49"/>
<rect x="451.91" y="317.1" width="1.9" height="3.7" fill="#dc2827"/>
<rect x="451.46" y="317.7" width="2.8" height="1.7" rx="0.7" fill="#dc2827"/>
<rect x="456.11" y="315.2" width="1.9" height="3.5" fill="#3f9f49"/>
<rect x="455.66" y="315.5" width="2.8" height="3.0" rx="0.7" fill="#3f9f49"/>
<rect x="460.30" y="314.8" width="1.9" height="3.0" fill="#3f9f49"/>
<rect x="459.85" y="315.0" width="2.8" height="2.5" rx="0.7" fill="#3f9f49"/>
<rect x="464.50" y="314.8" width="1.9" height="6.1" fill="#dc2827"/>
<rect x="464.05" y="315.2" width="2.8" height="5.1" rx="0.7" fill="#dc2827"/>
<rect x="468.69" y="313.8" width="1.9" height="6.1" fill="#3f9f49"/>
<rect x="468.24" y="314.3" width="2.8" height="5.1" rx="0.7" fill="#3f9f49"/>
<rect x="472.89" y="310.1" width="1.9" height="3.7" fill="#3f9f49"/>
<rect x="472.44" y="310.4" width="2.8" height="3.3" rx="0.7" fill="#3f9f49"/>
<rect x="477.09" y="303.1" width="1.9" height="10.7" fill="#3f9f49"/>
<rect x="476.64" y="303.6" width="2.8" height="6.5" rx="0.7" fill="#3f9f49"/>
<rect x="481.28" y="301.2" width="1.9" height="6.1" fill="#dc2827"/>
<rect x="480.83" y="301.7" width="2.8" height="5.1" rx="0.7" fill="#dc2827"/>
<rect x="485.48" y="300.0" width="1.9" height="5.4" fill="#3f9f49"/>
<rect x="485.03" y="300.3" width="2.8" height="4.9" rx="0.7" fill="#3f9f49"/>
<rect x="489.67" y="298.1" width="1.9" height="8.7" fill="#dc2827"/>
<rect x="489.22" y="299.6" width="2.8" height="4.1" rx="0.7" fill="#dc2827"/>
<rect x="493.87" y="297.0" width="1.9" height="6.7" fill="#3f9f49"/>
<rect x="493.42" y="297.3" width="2.8" height="6.3" rx="0.7" fill="#3f9f49"/>
<rect x="498.07" y="290.0" width="1.9" height="6.1" fill="#3f9f49"/>
<rect x="497.62" y="290.3" width="2.8" height="5.6" rx="0.7" fill="#3f9f49"/>
<rect x="502.26" y="284.9" width="1.9" height="9.3" fill="#3f9f49"/>
<rect x="501.81" y="285.2" width="2.8" height="8.9" rx="0.7" fill="#3f9f49"/>
<rect x="506.46" y="280.0" width="1.9" height="6.7" fill="#3f9f49"/>
<rect x="506.01" y="280.3" width="2.8" height="6.3" rx="0.7" fill="#3f9f49"/>
<rect x="510.65" y="278.3" width="1.9" height="7.0" fill="#3f9f49"/>
<rect x="510.20" y="278.6" width="2.8" height="6.5" rx="0.7" fill="#3f9f49"/>
<rect x="514.85" y="275.1" width="1.9" height="5.6" fill="#3f9f49"/>
<rect x="514.40" y="275.4" width="2.8" height="5.1" rx="0.7" fill="#3f9f49"/>
<rect x="519.05" y="274.1" width="1.9" height="14.9" fill="#dc2827"/>
<rect x="518.60" y="274.6" width="2.8" height="10.3" rx="0.7" fill="#dc2827"/>
<rect x="523.24" y="283.0" width="1.9" height="12.1" fill="#3f9f49"/>
<rect x="522.79" y="283.5" width="2.8" height="7.0" rx="0.7" fill="#3f9f49"/>
<rect x="527.44" y="284.1" width="1.9" height="8.2" fill="#dc2827"/>
<rect x="526.99" y="284.4" width="2.8" height="3.1" rx="0.7" fill="#dc2827"/>
<rect x="531.63" y="280.4" width="1.9" height="7.3" fill="#3f9f49"/>
<rect x="531.18" y="280.7" width="2.8" height="6.8" rx="0.7" fill="#3f9f49"/>
<rect x="535.83" y="277.2" width="1.9" height="6.3" fill="#3f9f49"/>
<rect x="535.38" y="277.5" width="2.8" height="5.8" rx="0.7" fill="#3f9f49"/>
<rect x="540.03" y="271.0" width="1.9" height="7.5" fill="#3f9f49"/>
<rect x="539.58" y="271.3" width="2.8" height="7.0" rx="0.7" fill="#3f9f49"/>
<rect x="544.22" y="266.2" width="1.9" height="6.3" fill="#3f9f49"/>
<rect x="543.77" y="266.4" width="2.8" height="5.8" rx="0.7" fill="#3f9f49"/>
<rect x="548.42" y="263.1" width="1.9" height="9.3" fill="#3f9f49"/>
<rect x="547.97" y="263.6" width="2.8" height="6.5" rx="0.7" fill="#3f9f49"/>
<rect x="552.61" y="258.9" width="1.9" height="6.1" fill="#3f9f49"/>
<rect x="552.16" y="259.2" width="2.8" height="5.6" rx="0.7" fill="#3f9f49"/>
<rect x="556.81" y="253.3" width="1.9" height="9.3" fill="#dc2827"/>
<rect x="556.36" y="256.5" width="2.8" height="5.6" rx="0.7" fill="#dc2827"/>
<rect x="561.01" y="255.1" width="1.9" height="12.1" fill="#3f9f49"/>
<rect x="560.56" y="255.6" width="2.8" height="5.1" rx="0.7" fill="#3f9f49"/>
<rect x="565.20" y="244.4" width="1.9" height="12.1" fill="#3f9f49"/>
<rect x="564.75" y="244.7" width="2.8" height="11.7" rx="0.7" fill="#3f9f49"/>
<rect x="569.40" y="236.5" width="1.9" height="10.3" fill="#3f9f49"/>
<rect x="568.95" y="236.8" width="2.8" height="9.8" rx="0.7" fill="#3f9f49"/>
<rect x="573.59" y="228.1" width="1.9" height="14.5" fill="#3f9f49"/>
<rect x="573.14" y="228.5" width="2.8" height="8.4" rx="0.7" fill="#3f9f49"/>
<rect x="577.79" y="227.1" width="1.9" height="18.2" fill="#dc2827"/>
<rect x="577.34" y="235.1" width="2.8" height="9.8" rx="0.7" fill="#dc2827"/>
<rect x="581.99" y="239.3" width="1.9" height="10.3" fill="#3f9f49"/>
<rect x="581.54" y="239.7" width="2.8" height="6.1" rx="0.7" fill="#3f9f49"/>
<rect x="586.18" y="236.0" width="1.9" height="9.3" fill="#3f9f49"/>
<rect x="585.73" y="236.3" width="2.8" height="8.9" rx="0.7" fill="#3f9f49"/>
<rect x="590.38" y="229.5" width="1.9" height="7.5" fill="#3f9f49"/>
<rect x="589.93" y="229.9" width="2.8" height="6.3" rx="0.7" fill="#3f9f49"/>
<rect x="594.57" y="229.9" width="1.9" height="13.5" fill="#dc2827"/>
<rect x="594.12" y="230.4" width="2.8" height="12.6" rx="0.7" fill="#dc2827"/>
<rect x="598.77" y="228.1" width="1.9" height="4.5" fill="#3f9f49"/>
<rect x="598.32" y="228.6" width="2.8" height="3.7" rx="0.7" fill="#3f9f49"/>
<rect x="602.97" y="228.6" width="1.9" height="32.8" fill="#dc2827"/>
<rect x="602.52" y="230.2" width="2.8" height="24.8" rx="0.7" fill="#dc2827"/>
<rect x="607.16" y="253.4" width="1.9" height="8.8" fill="#dc2827"/>
<rect x="606.71" y="254.2" width="2.8" height="7.2" rx="0.7" fill="#dc2827"/>
<rect x="611.36" y="261.2" width="1.9" height="12.1" fill="#dc2827"/>
<rect x="610.91" y="261.7" width="2.8" height="5.6" rx="0.7" fill="#dc2827"/>
<rect x="615.55" y="255.1" width="1.9" height="10.3" fill="#3f9f49"/>
<rect x="615.10" y="255.4" width="2.8" height="9.8" rx="0.7" fill="#3f9f49"/>
<rect x="619.75" y="250.9" width="1.9" height="5.1" fill="#3f9f49"/>
<rect x="619.30" y="251.2" width="2.8" height="4.7" rx="0.7" fill="#3f9f49"/>
<rect x="623.95" y="251.8" width="1.9" height="18.4" fill="#dc2827"/>
<rect x="623.50" y="252.3" width="2.8" height="17.4" rx="0.7" fill="#dc2827"/>
<rect x="628.14" y="263.8" width="1.9" height="12.0" fill="#3f9f49"/>
<rect x="627.69" y="264.3" width="2.8" height="11.0" rx="0.7" fill="#3f9f49"/>
<rect x="632.34" y="263.0" width="1.9" height="9.3" fill="#3f9f49"/>
<rect x="631.89" y="263.5" width="2.8" height="8.5" rx="0.7" fill="#3f9f49"/>
<rect x="636.53" y="264.9" width="1.9" height="20.5" fill="#dc2827"/>
<rect x="636.08" y="265.4" width="2.8" height="15.2" rx="0.7" fill="#dc2827"/>
<rect x="640.73" y="280.6" width="1.9" height="43.2" fill="#dc2827"/>
<rect x="640.28" y="281.4" width="2.8" height="20.0" rx="0.7" fill="#dc2827"/>
<rect x="644.93" y="294.2" width="1.9" height="29.6" fill="#dc2827"/>
<rect x="644.48" y="295.0" width="2.8" height="14.4" rx="0.7" fill="#dc2827"/>
<rect x="649.12" y="304.6" width="1.9" height="12.8" fill="#3f9f49"/>
<rect x="648.67" y="305.1" width="2.8" height="11.8" rx="0.7" fill="#3f9f49"/>
<rect x="653.32" y="298.2" width="1.9" height="24.0" fill="#dc2827"/>
<rect x="652.87" y="299.0" width="2.8" height="14.4" rx="0.7" fill="#dc2827"/>
<rect x="657.51" y="308.6" width="1.9" height="21.6" fill="#dc2827"/>
<rect x="657.06" y="309.4" width="2.8" height="16.0" rx="0.7" fill="#dc2827"/>
<rect x="661.71" y="317.4" width="1.9" height="16.8" fill="#3f9f49"/>
<rect x="661.26" y="318.2" width="2.8" height="8.8" rx="0.7" fill="#3f9f49"/>
<rect x="665.91" y="306.2" width="1.9" height="17.6" fill="#3f9f49"/>
<rect x="665.46" y="307.0" width="2.8" height="12.0" rx="0.7" fill="#3f9f49"/>
<rect x="670.10" y="300.2" width="1.9" height="8.3" fill="#3f9f49"/>
<rect x="669.65" y="300.7" width="2.8" height="7.5" rx="0.7" fill="#3f9f49"/>
<rect x="674.30" y="297.0" width="1.9" height="12.1" fill="#dc2827"/>
<rect x="673.85" y="299.8" width="2.8" height="6.5" rx="0.7" fill="#dc2827"/>
<rect x="678.49" y="291.9" width="1.9" height="20.3" fill="#3f9f49"/>
<rect x="678.04" y="292.5" width="2.8" height="10.9" rx="0.7" fill="#3f9f49"/>
<rect x="682.69" y="288.6" width="1.9" height="8.9" fill="#3f9f49"/>
<rect x="682.24" y="289.5" width="2.8" height="6.1" rx="0.7" fill="#3f9f49"/>
<rect x="686.89" y="283.1" width="1.9" height="12.0" fill="#3f9f49"/>
<rect x="686.44" y="283.9" width="2.8" height="7.0" rx="0.7" fill="#3f9f49"/>
<rect x="691.08" y="280.1" width="1.9" height="10.7" fill="#dc2827"/>
<rect x="690.63" y="281.1" width="2.8" height="9.3" rx="0.7" fill="#dc2827"/>
<rect x="695.28" y="281.1" width="1.9" height="12.6" fill="#3f9f49"/>
<rect x="694.83" y="284.6" width="2.8" height="8.6" rx="0.7" fill="#3f9f49"/>
<rect x="699.47" y="276.9" width="1.9" height="9.8" fill="#3f9f49"/>
<rect x="699.02" y="277.2" width="2.8" height="9.2" rx="0.7" fill="#3f9f49"/>
<rect x="703.67" y="275.3" width="1.9" height="13.3" fill="#dc2827"/>
<rect x="703.22" y="275.9" width="2.8" height="12.1" rx="0.7" fill="#dc2827"/>
<rect x="707.87" y="283.9" width="1.9" height="7.0" fill="#3f9f49"/>
<rect x="707.42" y="285.8" width="2.8" height="3.0" rx="0.7" fill="#3f9f49"/>
<rect x="712.06" y="272.9" width="1.9" height="13.1" fill="#3f9f49"/>
<rect x="711.61" y="273.1" width="2.8" height="12.6" rx="0.7" fill="#3f9f49"/>
<rect x="716.26" y="269.7" width="1.9" height="7.2" fill="#dc2827"/>
<rect x="715.81" y="270.3" width="2.8" height="6.1" rx="0.7" fill="#dc2827"/>
<rect x="720.45" y="271.3" width="1.9" height="15.4" fill="#dc2827"/>
<rect x="720.00" y="272.2" width="2.8" height="6.3" rx="0.7" fill="#dc2827"/>
<rect x="724.65" y="269.9" width="1.9" height="12.3" fill="#3f9f49"/>
<rect x="724.20" y="270.3" width="2.8" height="6.3" rx="0.7" fill="#3f9f49"/>
<rect x="728.85" y="271.9" width="1.9" height="9.9" fill="#3f9f49"/>
<rect x="728.40" y="272.2" width="2.8" height="9.3" rx="0.7" fill="#3f9f49"/>
<rect x="733.04" y="268.5" width="1.9" height="13.4" fill="#dc2827"/>
<rect x="732.59" y="272.2" width="2.8" height="9.3" rx="0.7" fill="#dc2827"/>
<rect x="737.24" y="269.9" width="1.9" height="10.7" fill="#3f9f49"/>
<rect x="736.79" y="270.3" width="2.8" height="9.8" rx="0.7" fill="#3f9f49"/>
<rect x="741.43" y="261.7" width="1.9" height="13.4" fill="#3f9f49"/>
<rect x="740.98" y="261.9" width="2.8" height="10.3" rx="0.7" fill="#3f9f49"/>
<rect x="745.63" y="256.3" width="1.9" height="8.4" fill="#3f9f49"/>
<rect x="745.18" y="258.7" width="2.8" height="5.6" rx="0.7" fill="#3f9f49"/>
<rect x="749.83" y="252.2" width="1.9" height="5.6" fill="#3f9f49"/>
<rect x="749.38" y="253.0" width="2.8" height="4.0" rx="0.7" fill="#3f9f49"/>
<rect x="754.02" y="249.8" width="1.9" height="8.4" fill="#3f9f49"/>
<rect x="753.57" y="250.1" width="2.8" height="7.8" rx="0.7" fill="#3f9f49"/>
<rect x="758.22" y="246.1" width="1.9" height="6.1" fill="#3f9f49"/>
<rect x="757.77" y="246.3" width="2.8" height="5.6" rx="0.7" fill="#3f9f49"/>
<rect x="762.41" y="246.6" width="1.9" height="23.2" fill="#dc2827"/>
<rect x="761.96" y="247.4" width="2.8" height="6.4" rx="0.7" fill="#dc2827"/>
<rect x="766.61" y="243.9" width="1.9" height="10.7" fill="#3f9f49"/>
<rect x="766.16" y="244.4" width="2.8" height="9.9" rx="0.7" fill="#3f9f49"/>
<rect x="770.81" y="240.6" width="1.9" height="12.0" fill="#dc2827"/>
<rect x="770.36" y="241.1" width="2.8" height="11.0" rx="0.7" fill="#dc2827"/>
<rect x="775.00" y="246.2" width="1.9" height="8.0" fill="#3f9f49"/>
<rect x="774.55" y="246.7" width="2.8" height="7.2" rx="0.7" fill="#3f9f49"/>
<rect x="779.20" y="245.9" width="1.9" height="8.3" fill="#dc2827"/>
<rect x="778.75" y="246.4" width="2.8" height="7.5" rx="0.7" fill="#dc2827"/>
<rect x="783.39" y="247.5" width="1.9" height="45.1" fill="#dc2827"/>
<rect x="782.94" y="248.6" width="2.8" height="34.4" rx="0.7" fill="#dc2827"/>
<rect x="787.59" y="282.2" width="1.9" height="19.2" fill="#dc2827"/>
<rect x="787.14" y="283.0" width="2.8" height="12.0" rx="0.7" fill="#dc2827"/>
<rect x="791.79" y="267.8" width="1.9" height="29.6" fill="#3f9f49"/>
<rect x="791.34" y="268.6" width="2.8" height="24.0" rx="0.7" fill="#3f9f49"/>
<rect x="795.98" y="273.1" width="1.9" height="19.6" fill="#3f9f49"/>
<rect x="795.53" y="273.6" width="2.8" height="8.4" rx="0.7" fill="#3f9f49"/>
<rect x="800.18" y="274.0" width="1.9" height="13.1" fill="#dc2827"/>
<rect x="799.73" y="274.5" width="2.8" height="6.5" rx="0.7" fill="#dc2827"/>
<rect x="804.37" y="265.6" width="1.9" height="15.4" fill="#3f9f49"/>
<rect x="803.92" y="266.1" width="2.8" height="14.5" rx="0.7" fill="#3f9f49"/>
<rect x="808.57" y="254.9" width="1.9" height="12.1" fill="#3f9f49"/>
<rect x="808.12" y="255.3" width="2.8" height="11.2" rx="0.7" fill="#3f9f49"/>
<rect x="812.77" y="249.3" width="1.9" height="13.1" fill="#3f9f49"/>
<rect x="812.32" y="252.8" width="2.8" height="7.8" rx="0.7" fill="#3f9f49"/>
<rect x="816.96" y="252.1" width="1.9" height="14.0" fill="#dc2827"/>
<rect x="816.51" y="252.5" width="2.8" height="7.9" rx="0.7" fill="#dc2827"/>
<rect x="821.16" y="257.2" width="1.9" height="15.9" fill="#dc2827"/>
<rect x="820.71" y="260.5" width="2.8" height="12.1" rx="0.7" fill="#dc2827"/>
<rect x="825.35" y="267.0" width="1.9" height="13.1" fill="#3f9f49"/>
<rect x="824.90" y="267.5" width="2.8" height="6.1" rx="0.7" fill="#3f9f49"/>
<rect x="829.55" y="258.1" width="1.9" height="12.1" fill="#3f9f49"/>
<rect x="829.10" y="261.2" width="2.8" height="6.9" rx="0.7" fill="#3f9f49"/>
<rect x="833.75" y="252.1" width="1.9" height="12.6" fill="#3f9f49"/>
<rect x="833.30" y="252.5" width="2.8" height="8.9" rx="0.7" fill="#3f9f49"/>
<rect x="837.94" y="243.2" width="1.9" height="14.0" fill="#3f9f49"/>
<rect x="837.49" y="247.9" width="2.8" height="8.9" rx="0.7" fill="#3f9f49"/>
<rect x="842.14" y="243.7" width="1.9" height="7.9" fill="#3f9f49"/>
<rect x="841.69" y="247.4" width="2.8" height="2.1" rx="0.7" fill="#3f9f49"/>
<rect x="846.33" y="244.1" width="1.9" height="11.7" fill="#3f9f49"/>
<rect x="845.88" y="244.6" width="2.8" height="3.5" rx="0.7" fill="#3f9f49"/>
<rect x="850.53" y="238.1" width="1.9" height="7.0" fill="#3f9f49"/>
<rect x="850.08" y="238.4" width="2.8" height="6.4" rx="0.7" fill="#3f9f49"/>
<rect x="854.73" y="233.2" width="1.9" height="6.7" fill="#3f9f49"/>
<rect x="854.28" y="235.1" width="2.8" height="2.7" rx="0.7" fill="#3f9f49"/>
<rect x="858.92" y="233.9" width="1.9" height="7.9" fill="#dc2827"/>
<rect x="858.47" y="234.3" width="2.8" height="7.0" rx="0.7" fill="#dc2827"/>
<rect x="863.12" y="228.7" width="1.9" height="11.2" fill="#3f9f49"/>
<rect x="862.67" y="229.2" width="2.8" height="9.8" rx="0.7" fill="#3f9f49"/>
<rect x="867.31" y="232.0" width="1.9" height="12.6" fill="#3f9f49"/>
<rect x="866.86" y="232.5" width="2.8" height="3.9" rx="0.7" fill="#3f9f49"/>
<rect x="871.51" y="218.2" width="1.9" height="15.2" fill="#3f9f49"/>
<rect x="871.06" y="218.7" width="2.8" height="14.4" rx="0.7" fill="#3f9f49"/>
<rect x="875.71" y="221.9" width="1.9" height="16.6" fill="#dc2827"/>
<rect x="875.26" y="222.4" width="2.8" height="15.8" rx="0.7" fill="#dc2827"/>
<rect x="879.90" y="220.8" width="1.9" height="16.0" fill="#3f9f49"/>
<rect x="879.45" y="221.3" width="2.8" height="15.0" rx="0.7" fill="#3f9f49"/>
<rect x="884.10" y="220.1" width="1.9" height="8.9" fill="#dc2827"/>
<rect x="883.65" y="223.4" width="2.8" height="5.1" rx="0.7" fill="#dc2827"/>
<rect x="888.29" y="214.0" width="1.9" height="14.5" fill="#3f9f49"/>
<rect x="887.84" y="215.4" width="2.8" height="12.6" rx="0.7" fill="#3f9f49"/>
<rect x="892.49" y="207.0" width="1.9" height="12.1" fill="#3f9f49"/>
<rect x="892.04" y="207.3" width="2.8" height="11.6" rx="0.7" fill="#3f9f49"/>
<rect x="896.69" y="197.2" width="1.9" height="10.7" fill="#3f9f49"/>
<rect x="896.24" y="197.5" width="2.8" height="10.2" rx="0.7" fill="#3f9f49"/>
<rect x="900.88" y="192.8" width="1.9" height="7.2" fill="#3f9f49"/>
<rect x="900.43" y="193.3" width="2.8" height="6.4" rx="0.7" fill="#3f9f49"/>
<rect x="905.08" y="190.4" width="1.9" height="8.8" fill="#dc2827"/>
<rect x="904.63" y="191.2" width="2.8" height="6.9" rx="0.7" fill="#dc2827"/>
<rect x="909.27" y="190.2" width="1.9" height="16.3" fill="#3f9f49"/>
<rect x="908.82" y="190.7" width="2.8" height="9.8" rx="0.7" fill="#3f9f49"/>
<rect x="913.47" y="192.1" width="1.9" height="17.3" fill="#dc2827"/>
<rect x="913.02" y="192.5" width="2.8" height="16.3" rx="0.7" fill="#dc2827"/>
<rect x="917.67" y="190.2" width="1.9" height="14.9" fill="#3f9f49"/>
<rect x="917.22" y="191.3" width="2.8" height="5.6" rx="0.7" fill="#3f9f49"/>
<rect x="921.86" y="184.6" width="1.9" height="13.1" fill="#3f9f49"/>
<rect x="921.41" y="185.1" width="2.8" height="7.9" rx="0.7" fill="#3f9f49"/>
<rect x="926.06" y="183.2" width="1.9" height="6.5" fill="#dc2827"/>
<rect x="925.61" y="183.7" width="2.8" height="5.6" rx="0.7" fill="#dc2827"/>
<rect x="930.25" y="183.2" width="1.9" height="15.4" fill="#dc2827"/>
<rect x="929.80" y="188.3" width="2.8" height="9.8" rx="0.7" fill="#dc2827"/>
<rect x="934.45" y="193.5" width="1.9" height="15.9" fill="#3f9f49"/>
<rect x="934.00" y="196.7" width="2.8" height="5.1" rx="0.7" fill="#3f9f49"/>
<rect x="938.65" y="186.9" width="1.9" height="11.7" fill="#dc2827"/>
<rect x="938.20" y="187.4" width="2.8" height="10.7" rx="0.7" fill="#dc2827"/>
<rect x="942.84" y="195.3" width="1.9" height="27.1" fill="#dc2827"/>
<rect x="942.39" y="196.6" width="2.8" height="3.5" rx="0.7" fill="#dc2827"/>
<rect x="947.04" y="184.1" width="1.9" height="19.1" fill="#3f9f49"/>
<rect x="946.59" y="184.6" width="2.8" height="17.3" rx="0.7" fill="#3f9f49"/>
<rect x="951.23" y="181.3" width="1.9" height="20.1" fill="#dc2827"/>
<rect x="950.78" y="185.5" width="2.8" height="7.0" rx="0.7" fill="#dc2827"/>
<rect x="955.43" y="164.5" width="1.9" height="32.7" fill="#3f9f49"/>
<rect x="954.98" y="167.8" width="2.8" height="24.3" rx="0.7" fill="#3f9f49"/>
<rect x="959.63" y="151.2" width="1.9" height="15.2" fill="#3f9f49"/>
<rect x="959.18" y="151.7" width="2.8" height="14.2" rx="0.7" fill="#3f9f49"/>
<rect x="963.82" y="136.0" width="1.9" height="19.2" fill="#3f9f49"/>
<rect x="963.37" y="136.8" width="2.8" height="17.6" rx="0.7" fill="#3f9f49"/>
<rect x="968.02" y="127.2" width="1.9" height="25.6" fill="#dc2827"/>
<rect x="967.57" y="137.6" width="2.8" height="11.2" rx="0.7" fill="#dc2827"/>
<rect x="972.21" y="139.2" width="1.9" height="17.3" fill="#3f9f49"/>
<rect x="971.76" y="139.4" width="2.8" height="16.8" rx="0.7" fill="#3f9f49"/>
<rect x="976.41" y="145.6" width="1.9" height="19.2" fill="#dc2827"/>
<rect x="975.96" y="146.1" width="2.8" height="18.2" rx="0.7" fill="#dc2827"/>
<rect x="980.61" y="141.8" width="1.9" height="26.4" fill="#3f9f49"/>
<rect x="980.16" y="152.6" width="2.8" height="15.2" rx="0.7" fill="#3f9f49"/>
<rect x="984.80" y="145.4" width="1.9" height="54.4" fill="#dc2827"/>
<rect x="984.35" y="153.6" width="2.8" height="24.5" rx="0.7" fill="#dc2827"/>
<rect x="989.00" y="171.8" width="1.9" height="28.0" fill="#dc2827"/>
<rect x="988.55" y="172.6" width="2.8" height="18.4" rx="0.7" fill="#dc2827"/>
<rect x="993.19" y="162.2" width="1.9" height="35.2" fill="#3f9f49"/>
<rect x="992.74" y="163.0" width="2.8" height="28.0" rx="0.7" fill="#3f9f49"/>
<rect x="997.39" y="150.2" width="1.9" height="22.4" fill="#3f9f49"/>
<rect x="996.94" y="150.7" width="2.8" height="21.4" rx="0.7" fill="#3f9f49"/>
<rect x="1001.59" y="150.2" width="1.9" height="30.4" fill="#dc2827"/>
<rect x="1001.14" y="151.6" width="2.8" height="15.0" rx="0.7" fill="#dc2827"/>
<rect x="1005.78" y="165.4" width="1.9" height="35.2" fill="#dc2827"/>
<rect x="1005.33" y="166.7" width="2.8" height="22.1" rx="0.7" fill="#dc2827"/>
<rect x="1009.98" y="187.0" width="1.9" height="27.2" fill="#dc2827"/>
<rect x="1009.53" y="187.8" width="2.8" height="8.2" rx="0.7" fill="#dc2827"/>
<rect x="1014.17" y="181.4" width="1.9" height="17.6" fill="#3f9f49"/>
<rect x="1013.72" y="184.9" width="2.8" height="11.0" rx="0.7" fill="#3f9f49"/>
<rect x="1018.37" y="173.4" width="1.9" height="23.2" fill="#3f9f49"/>
<rect x="1017.92" y="182.2" width="2.8" height="8.8" rx="0.7" fill="#3f9f49"/>
<rect x="1022.57" y="174.7" width="1.9" height="14.7" fill="#3f9f49"/>
<rect x="1022.12" y="175.2" width="2.8" height="13.8" rx="0.7" fill="#3f9f49"/>
<rect x="1026.76" y="172.8" width="1.9" height="25.2" fill="#dc2827"/>
<rect x="1026.31" y="177.9" width="2.8" height="15.9" rx="0.7" fill="#dc2827"/>
<rect x="1030.96" y="175.0" width="1.9" height="25.3" fill="#3f9f49"/>
<rect x="1030.51" y="175.5" width="2.8" height="16.2" rx="0.7" fill="#3f9f49"/>
<rect x="1035.15" y="165.3" width="1.9" height="16.3" fill="#3f9f49"/>
<rect x="1034.70" y="169.0" width="2.8" height="6.5" rx="0.7" fill="#3f9f49"/>
<rect x="1039.35" y="165.8" width="1.9" height="14.0" fill="#dc2827"/>
<rect x="1038.90" y="168.6" width="2.8" height="5.6" rx="0.7" fill="#dc2827"/>
<rect x="1043.55" y="164.8" width="1.9" height="11.0" fill="#3f9f49"/>
<rect x="1043.10" y="166.7" width="2.8" height="8.4" rx="0.7" fill="#3f9f49"/>
<rect x="1047.74" y="165.3" width="1.9" height="19.3" fill="#dc2827"/>
<rect x="1047.29" y="165.8" width="2.8" height="6.5" rx="0.7" fill="#dc2827"/>
<rect x="1051.94" y="149.1" width="1.9" height="26.7" fill="#3f9f49"/>
<rect x="1051.49" y="149.7" width="2.8" height="19.8" rx="0.7" fill="#3f9f49"/>
<rect x="1056.13" y="139.8" width="1.9" height="10.8" fill="#3f9f49"/>
<rect x="1055.68" y="143.8" width="2.8" height="6.5" rx="0.7" fill="#3f9f49"/>
<rect x="1060.33" y="136.8" width="1.9" height="12.9" fill="#3f9f49"/>
<rect x="1059.88" y="141.0" width="2.8" height="8.4" rx="0.7" fill="#3f9f49"/>
<rect x="1064.53" y="129.2" width="1.9" height="11.6" fill="#3f9f49"/>
<rect x="1064.08" y="129.3" width="2.8" height="11.0" rx="0.7" fill="#3f9f49"/>
<rect x="1068.72" y="126.5" width="1.9" height="11.7" fill="#3f9f49"/>
<rect x="1068.27" y="127.0" width="2.8" height="5.6" rx="0.7" fill="#3f9f49"/>
<rect x="1072.92" y="116.7" width="1.9" height="10.7" fill="#3f9f49"/>
<rect x="1072.47" y="117.1" width="2.8" height="9.9" rx="0.7" fill="#3f9f49"/>
<rect x="1077.11" y="116.0" width="1.9" height="14.0" fill="#dc2827"/>
<rect x="1076.66" y="116.4" width="2.8" height="13.2" rx="0.7" fill="#dc2827"/>
<rect x="1081.31" y="121.4" width="1.9" height="13.5" fill="#dc2827"/>
<rect x="1080.86" y="127.9" width="2.8" height="6.5" rx="0.7" fill="#dc2827"/>
<rect x="1085.51" y="129.2" width="1.9" height="10.9" fill="#dc2827"/>
<rect x="1085.06" y="132.1" width="2.8" height="4.9" rx="0.7" fill="#dc2827"/>
<rect x="1089.70" y="116.7" width="1.9" height="20.0" fill="#3f9f49"/>
<rect x="1089.25" y="117.1" width="2.8" height="19.2" rx="0.7" fill="#3f9f49"/>
<rect x="1093.90" y="106.7" width="1.9" height="10.7" fill="#3f9f49"/>
<rect x="1093.45" y="107.1" width="2.8" height="9.9" rx="0.7" fill="#3f9f49"/>
<rect x="1098.09" y="102.0" width="1.9" height="15.3" fill="#dc2827"/>
<rect x="1097.64" y="102.4" width="2.8" height="10.3" rx="0.7" fill="#dc2827"/>
<rect x="1102.29" y="105.3" width="1.9" height="12.7" fill="#dc2827"/>
<rect x="1101.84" y="105.7" width="2.8" height="11.9" rx="0.7" fill="#dc2827"/>
<rect x="1106.49" y="99.6" width="1.9" height="20.4" fill="#3f9f49"/>
<rect x="1106.04" y="108.7" width="2.8" height="7.3" rx="0.7" fill="#3f9f49"/>
<rect x="1110.68" y="106.7" width="1.9" height="37.3" fill="#dc2827"/>
<rect x="1110.23" y="107.3" width="2.8" height="22.0" rx="0.7" fill="#dc2827"/>
<rect x="1114.88" y="125.3" width="1.9" height="17.3" fill="#dc2827"/>
<rect x="1114.43" y="126.9" width="2.8" height="6.1" rx="0.7" fill="#dc2827"/>
<rect x="1119.07" y="122.0" width="1.9" height="20.1" fill="#3f9f49"/>
<rect x="1118.62" y="122.8" width="2.8" height="12.1" rx="0.7" fill="#3f9f49"/>
<rect x="1123.27" y="108.7" width="1.9" height="16.7" fill="#3f9f49"/>
<rect x="1122.82" y="120.0" width="2.8" height="4.7" rx="0.7" fill="#3f9f49"/>
<rect x="1127.47" y="109.3" width="1.9" height="25.3" fill="#dc2827"/>
<rect x="1127.02" y="122.9" width="2.8" height="7.1" rx="0.7" fill="#dc2827"/>
<rect x="1131.66" y="116.0" width="1.9" height="17.3" fill="#3f9f49"/>
<rect x="1131.21" y="118.3" width="2.8" height="11.7" rx="0.7" fill="#3f9f49"/>
<rect x="1135.86" y="117.3" width="1.9" height="17.3" fill="#dc2827"/>
<rect x="1135.41" y="118.3" width="2.8" height="10.4" rx="0.7" fill="#dc2827"/>
<rect x="1140.05" y="125.3" width="1.9" height="12.0" fill="#dc2827"/>
<rect x="1139.60" y="128.7" width="2.8" height="2.3" rx="0.7" fill="#dc2827"/>
<rect x="1144.25" y="128.0" width="1.9" height="31.3" fill="#dc2827"/>
<rect x="1143.80" y="128.8" width="2.8" height="20.7" rx="0.7" fill="#dc2827"/>
<path d="M83.6,316.7C85.0,316.0 89.0,314.1 91.8,312.4C94.6,310.7 98.1,308.3 100.2,306.6C102.3,305.0 103.0,304.0 104.4,302.4C105.8,300.8 107.2,298.9 108.6,297.0C110.0,295.1 111.4,292.9 112.8,291.0C114.2,289.1 115.6,287.3 117.0,285.6C118.4,283.9 119.8,282.3 121.2,280.8C122.6,279.3 124.0,277.3 125.4,276.6C126.8,275.9 127.5,276.7 129.6,276.8C131.7,277.0 135.2,277.4 138.0,277.6C140.8,277.7 143.6,277.8 146.4,277.8C149.2,277.8 151.9,277.7 154.8,277.6C157.8,277.4 161.3,276.9 164.1,277.0C166.9,277.1 169.3,277.8 171.7,278.3C174.0,278.8 176.1,279.5 178.3,280.0C180.6,280.5 183.0,281.3 185.0,281.1C187.0,280.8 188.8,280.2 190.3,278.7C191.9,277.2 193.0,274.7 194.3,272.0C195.7,269.3 197.0,265.8 198.3,262.7C199.7,259.6 201.0,256.3 202.3,253.3C203.7,250.3 205.0,246.9 206.3,244.7C207.7,242.4 208.8,241.6 210.3,240.0C211.9,238.4 213.7,237.0 215.7,235.3C217.7,233.7 220.1,231.6 222.3,230.0C224.6,228.4 226.8,227.0 229.0,226.0C231.2,225.0 233.4,224.1 235.7,223.7C237.9,223.4 239.9,223.5 242.3,223.7C244.8,224.0 247.9,224.6 250.3,225.1C252.8,225.6 255.2,226.1 257.2,226.8C259.1,227.4 260.7,228.4 262.0,228.8C263.3,229.2 264.0,228.6 265.0,229.3C266.0,230.0 266.5,232.1 268.0,233.0C269.5,233.9 272.3,234.5 274.0,234.5C275.7,234.5 276.7,233.9 278.0,233.0C279.3,232.1 280.8,230.1 282.0,229.0C283.2,227.9 283.8,226.6 285.0,226.2C286.2,225.8 287.7,226.0 289.0,226.5C290.3,227.0 291.5,227.8 293.0,229.0C294.5,230.2 296.2,232.2 298.0,233.5C299.8,234.8 302.2,235.2 304.0,236.5C305.8,237.8 307.3,239.3 309.0,241.0C310.7,242.7 312.3,245.1 314.0,246.8C315.7,248.5 317.5,249.7 319.0,251.0C320.5,252.3 321.5,254.2 323.0,254.8C324.5,255.4 326.0,254.2 328.0,254.5C330.0,254.8 332.5,255.8 335.0,256.5C337.5,257.2 340.5,257.6 343.0,259.0C345.5,260.4 347.8,263.2 350.0,265.0C352.2,266.8 354.0,268.3 356.0,270.0C358.0,271.7 360.3,273.8 362.0,275.0C363.7,276.2 364.3,276.8 366.0,277.5C367.7,278.2 370.3,278.8 372.0,279.5C373.7,280.2 374.5,280.8 376.0,282.0C377.5,283.2 379.1,284.1 381.2,286.4C383.3,288.8 386.7,293.5 388.8,296.4C390.9,299.3 391.7,300.9 393.6,303.6C395.5,306.3 397.9,310.6 400.0,312.9C402.1,315.1 404.3,316.6 406.4,317.2C408.5,317.8 410.4,317.0 412.8,316.4C415.2,315.8 418.1,314.3 420.8,313.5C423.5,312.7 426.1,312.0 428.8,311.6C431.5,311.2 434.1,311.0 436.8,311.3C439.5,311.5 442.1,312.8 444.8,313.2C447.5,313.6 450.1,313.8 452.8,313.7C455.5,313.5 458.1,312.5 460.8,312.4C463.5,312.3 466.7,313.1 468.8,312.9C470.9,312.7 471.7,312.4 473.6,311.3C475.5,310.1 477.9,307.7 480.0,306.0C482.1,304.3 483.7,302.8 486.0,301.2C488.3,299.6 491.3,298.8 494.0,296.4C496.7,294.0 499.3,290.0 502.0,286.8C504.7,283.6 507.3,279.7 510.0,277.2C512.7,274.7 515.3,273.3 518.0,272.1C520.7,270.9 523.3,270.9 526.0,270.0C528.7,269.1 531.3,267.9 534.0,266.8C536.7,265.7 539.3,264.7 542.0,263.6C544.7,262.5 547.3,261.3 550.0,259.9C552.7,258.6 555.9,256.9 558.0,255.6C560.1,254.3 561.2,253.8 562.8,251.9C564.4,250.1 566.0,247.1 567.6,244.4C569.2,241.7 570.7,237.9 572.4,235.6C574.1,233.3 576.4,232.1 578.1,230.6C579.8,229.1 580.9,228.2 582.7,226.6C584.6,225.0 587.4,222.4 589.0,220.9C590.6,219.5 591.2,218.9 592.5,217.9C593.8,216.9 595.7,215.5 597.0,214.7C598.3,214.0 598.9,213.6 600.1,213.6C601.3,213.6 602.8,214.2 604.2,214.7C605.6,215.2 607.0,215.9 608.7,216.5C610.3,217.2 612.3,218.1 614.1,218.8C615.9,219.4 617.5,220.0 619.5,220.4C621.4,220.8 623.7,220.9 625.8,221.0C627.9,221.1 630.3,221.3 632.1,221.0C633.9,220.7 635.2,220.2 636.6,219.2C637.9,218.3 639.0,216.6 640.2,215.2C641.4,213.8 642.6,211.9 643.8,210.7C645.0,209.5 646.0,208.5 647.4,207.8C648.7,207.1 650.4,206.7 651.9,206.4C653.4,206.1 654.7,206.0 656.4,206.0C658.0,206.1 660.3,206.2 661.8,206.6C663.3,207.1 664.0,207.7 665.3,208.9C666.7,210.1 668.3,211.9 669.8,213.8C671.3,215.8 672.8,218.3 674.3,220.6C675.8,222.9 677.3,224.8 678.8,227.8C680.3,230.8 681.5,235.7 683.3,238.6C685.2,241.4 687.5,242.6 690.0,244.9C692.5,247.1 695.9,249.9 698.4,252.2C700.9,254.5 702.7,256.7 704.8,258.6C706.9,260.5 709.1,262.3 711.2,263.4C713.3,264.5 715.5,265.3 717.6,265.3C719.7,265.3 721.9,264.3 724.0,263.4C726.1,262.5 728.3,261.1 730.4,260.2C732.5,259.3 734.7,258.7 736.8,258.3C738.9,257.9 741.1,258.3 743.2,257.8C745.3,257.3 747.5,256.6 749.6,255.4C751.7,254.2 753.9,252.2 756.0,250.6C758.1,249.0 760.3,247.4 762.4,245.8C764.5,244.2 766.7,242.5 768.8,241.0C770.9,239.5 773.3,237.6 775.2,236.5C777.1,235.5 778.5,235.0 780.0,234.6C781.5,234.2 782.3,234.3 784.4,234.4C786.5,234.4 789.5,234.7 792.4,234.7C795.3,234.7 798.8,234.7 802.0,234.5C805.2,234.4 808.4,234.0 811.6,233.9C814.8,233.7 818.0,233.6 821.2,233.6C824.4,233.5 827.6,233.6 830.8,233.6C834.0,233.5 837.7,233.4 840.4,233.2C843.1,233.1 844.7,233.2 846.8,232.8C848.9,232.3 851.1,231.3 853.2,230.5C855.3,229.7 857.5,228.8 859.6,227.8C861.7,226.8 863.9,225.7 866.0,224.6C868.1,223.5 870.3,222.1 872.4,220.9C874.5,219.8 876.7,218.7 878.8,217.7C880.9,216.7 883.3,216.0 885.2,215.0C887.1,214.0 888.2,214.0 890.0,211.8C891.8,209.6 894.2,204.6 896.0,201.6C897.8,198.6 898.8,195.7 900.8,193.6C902.8,191.5 905.9,190.4 908.0,188.8C910.1,187.2 911.6,185.7 913.6,184.0C915.6,182.3 917.9,180.1 920.0,178.4C922.1,176.7 924.3,175.0 926.4,174.1C928.5,173.1 930.4,173.1 932.8,172.8C935.2,172.5 938.4,172.6 940.8,172.5C943.2,172.3 945.3,172.3 947.2,172.0C949.1,171.7 950.4,171.9 952.0,170.9C953.6,169.8 955.5,167.4 956.8,165.6C958.1,163.8 958.7,162.5 960.0,160.0C961.3,157.5 963.2,152.8 964.8,150.4C966.4,148.0 967.7,147.1 969.6,145.6C971.5,144.1 973.9,142.8 976.0,141.6C978.1,140.4 980.3,139.1 982.4,138.4C984.5,137.7 986.7,137.7 988.8,137.3C990.9,136.9 993.3,136.3 995.2,136.0C997.1,135.7 998.0,135.7 1000.0,135.2C1002.0,134.7 1004.6,133.4 1007.4,133.1C1010.2,132.8 1014.1,133.1 1017.0,133.4C1019.9,133.7 1022.3,134.4 1025.0,134.7C1027.7,135.0 1030.3,134.9 1033.0,135.3C1035.7,135.7 1038.9,136.0 1041.0,136.9C1043.1,137.8 1044.2,139.6 1045.8,140.6C1047.4,141.6 1049.0,142.7 1050.6,143.0C1052.2,143.3 1053.8,143.1 1055.4,142.2C1057.0,141.3 1058.6,139.1 1060.2,137.4C1061.8,135.7 1063.4,133.9 1065.0,131.8C1066.6,129.7 1068.2,127.0 1069.8,124.6C1071.4,122.2 1072.5,119.4 1074.6,117.4C1076.7,115.4 1079.9,114.1 1082.2,112.4C1084.4,110.7 1086.2,109.1 1088.0,107.3C1089.9,105.5 1091.8,103.4 1093.2,101.7C1094.7,100.0 1095.4,98.5 1096.7,97.3C1098.0,96.1 1099.2,95.8 1101.1,94.6C1103.0,93.3 1106.1,90.3 1108.0,90.0C1109.9,89.7 1111.0,92.0 1112.7,92.7C1114.3,93.3 1116.2,93.4 1118.0,94.0C1119.8,94.6 1121.8,95.3 1123.3,96.0C1124.9,96.7 1126.0,97.0 1127.3,98.0C1128.7,99.0 1130.0,100.9 1131.3,102.0C1132.7,103.1 1134.0,104.1 1135.3,104.7C1136.7,105.2 1137.8,105.3 1139.3,105.3C1140.9,105.3 1143.0,104.9 1144.7,104.7C1146.3,104.5 1148.6,104.2 1149.4,104.1" fill="none" stroke="#e8a92c" stroke-width="2.1" stroke-linejoin="round"/>
<path d="M83.6,374.7C84.8,374.4 88.5,373.4 91.0,372.6C93.5,371.8 95.8,370.8 98.5,369.9C101.1,369.0 104.2,368.1 107.0,367.2C109.9,366.3 113.1,365.3 115.6,364.6C118.0,363.9 120.4,363.5 122.0,363.0C123.6,362.4 123.7,362.5 125.2,361.4C126.6,360.2 128.5,357.9 130.5,356.0C132.5,354.2 134.8,352.1 136.9,350.2C139.0,348.2 141.2,346.2 143.3,344.3C145.4,342.4 147.9,340.4 149.7,339.0C151.5,337.5 152.6,336.5 154.0,335.8C155.4,335.0 156.6,335.1 158.2,334.4C159.8,333.7 161.8,332.6 163.6,331.5C165.4,330.4 167.1,329.5 168.9,328.0C170.7,326.4 172.5,324.0 174.3,322.4C176.0,320.8 177.8,319.4 179.6,318.1C181.4,316.9 182.9,315.5 184.9,314.9C187.0,314.4 190.1,314.1 191.8,314.8C193.6,315.4 194.0,317.4 195.5,318.8C196.9,320.2 199.0,321.4 200.6,323.2C202.2,324.9 203.7,327.8 205.0,329.4C206.4,331.0 207.3,332.1 208.5,332.8C209.8,333.5 211.3,333.7 212.7,333.4C214.0,333.1 215.2,332.0 216.7,331.0C218.1,330.0 219.8,328.6 221.3,327.7C222.9,326.7 224.3,326.2 226.0,325.3C227.7,324.4 229.7,323.3 231.3,322.3C233.0,321.3 234.7,320.4 236.0,319.3C237.3,318.2 238.1,316.9 239.3,315.7C240.6,314.4 242.0,312.8 243.3,311.7C244.7,310.5 246.0,309.9 247.3,308.7C248.7,307.4 250.0,305.6 251.3,304.3C252.7,303.1 253.6,302.7 255.3,301.3C257.1,300.0 259.8,298.2 261.9,296.1C263.9,294.0 265.7,290.7 267.8,289.0C269.9,287.3 272.3,285.9 274.2,286.1C276.1,286.4 277.4,288.1 279.0,290.6C280.6,293.1 282.2,297.5 283.8,301.0C285.4,304.5 286.7,308.9 288.6,311.4C290.5,313.9 292.6,314.7 295.0,316.2C297.4,317.7 300.3,319.5 303.0,320.2C305.7,320.9 308.3,320.3 311.0,320.7C313.7,321.1 316.9,321.6 319.0,322.6C321.1,323.6 322.2,324.6 323.8,326.6C325.4,328.6 326.7,331.5 328.6,334.6C330.5,337.7 332.9,341.9 335.0,345.0C337.1,348.1 339.3,350.5 341.4,353.0C343.5,355.5 345.7,357.9 347.8,360.2C349.9,362.5 352.3,364.9 354.2,366.6C356.1,368.3 357.5,369.4 359.0,370.6C360.5,371.8 361.0,372.6 363.0,373.8C365.0,375.0 368.9,377.0 371.0,377.8C373.1,378.6 373.6,378.4 375.5,378.4C377.4,378.3 380.2,378.0 382.4,377.5C384.6,377.1 386.7,376.7 388.8,375.6C390.9,374.5 393.1,372.5 395.2,370.8C397.3,369.1 399.5,366.9 401.6,365.7C403.7,364.5 405.9,363.9 408.0,363.6C410.1,363.3 412.3,363.7 414.4,363.6C416.5,363.5 418.4,363.1 420.8,362.8C423.2,362.5 426.1,362.5 428.8,361.5C431.5,360.6 434.1,359.4 436.8,357.2C439.5,355.0 442.1,350.9 444.8,348.4C447.5,345.9 450.1,343.6 452.8,342.0C455.5,340.4 458.1,340.2 460.8,338.8C463.5,337.4 466.4,334.6 468.8,333.7C471.2,332.7 473.3,333.0 475.2,333.2C477.1,333.4 478.5,334.4 480.2,334.9C482.0,335.4 483.9,335.9 485.9,336.1C487.9,336.4 490.1,336.2 492.2,336.4C494.3,336.6 496.4,336.9 498.5,337.3C500.6,337.7 502.8,338.3 504.8,338.6C506.7,338.9 508.5,339.2 510.2,339.1C511.8,339.0 513.2,338.6 514.7,337.9C516.2,337.3 517.4,336.4 519.2,335.2C521.0,334.0 523.4,332.1 525.5,330.7C527.6,329.4 529.5,328.4 531.8,327.1C534.0,325.9 536.7,324.4 538.9,323.1C541.2,321.7 543.3,320.3 545.2,319.0C547.2,317.8 548.5,317.0 550.6,315.4C552.8,313.9 555.7,311.3 558.0,310.0C560.3,308.7 562.3,308.1 564.4,307.9C566.5,307.7 568.7,309.3 570.8,308.9C572.9,308.5 575.1,306.7 577.2,305.7C579.3,304.6 581.5,303.4 583.6,302.5C585.7,301.6 587.4,301.4 590.0,300.4C592.6,299.4 596.7,297.9 599.0,296.6C601.3,295.3 602.2,294.1 603.8,292.6C605.4,291.1 606.7,289.7 608.6,287.8C610.5,285.9 612.9,283.1 615.0,281.4C617.1,279.7 619.0,278.2 621.4,277.4C623.8,276.6 627.3,276.5 629.4,276.6C631.5,276.7 632.6,276.7 634.2,278.2C635.8,279.7 637.4,282.6 639.0,285.4C640.6,288.2 642.0,291.4 643.8,295.0C645.6,298.6 648.1,303.9 649.7,307.3C651.3,310.7 652.2,312.3 653.6,315.6C655.0,318.9 656.3,323.4 658.3,327.1C660.3,330.8 663.3,335.3 665.5,337.6C667.6,339.8 669.6,340.0 671.2,340.6C672.7,341.2 673.6,341.2 674.8,341.2C676.0,341.1 677.2,340.8 678.4,340.3C679.6,339.7 680.2,338.6 682.0,337.9C683.8,337.1 686.8,336.5 689.2,335.8C691.6,335.1 694.6,334.3 696.4,333.7C698.2,333.1 698.8,332.9 700.0,332.2C701.2,331.4 702.3,329.9 703.6,329.2C704.8,328.4 706.0,328.1 707.6,327.7C709.2,327.3 711.7,327.1 713.2,326.8C714.7,326.6 715.6,326.4 716.8,326.3C717.9,326.2 718.8,326.2 720.0,326.1C721.2,326.0 722.3,326.1 724.0,325.8C725.7,325.5 728.3,325.1 730.4,324.2C732.5,323.3 734.7,322.2 736.8,320.2C738.9,318.2 741.1,314.5 743.2,312.2C745.3,309.9 747.5,308.1 749.6,306.6C751.7,305.1 753.9,304.3 756.0,303.4C758.1,302.5 760.3,301.5 762.4,301.0C764.5,300.5 766.7,300.9 768.8,300.2C770.9,299.5 773.3,297.9 775.2,297.0C777.1,296.1 778.5,294.9 780.0,294.6C781.5,294.3 782.9,295.2 784.4,295.0C785.9,294.8 787.3,293.4 788.9,293.4C790.5,293.4 792.1,294.7 794.0,295.0C795.9,295.3 798.3,295.7 800.4,295.5C802.5,295.2 804.7,294.2 806.8,293.4C808.9,292.6 811.1,291.4 813.2,290.7C815.3,290.0 817.2,289.3 819.6,289.1C822.0,288.9 824.7,289.3 827.6,289.4C830.5,289.5 834.0,289.6 837.2,289.7C840.4,289.9 843.6,289.9 846.8,290.2C850.0,290.5 853.5,291.4 856.4,291.8C859.3,292.2 862.0,293.3 864.4,292.6C866.8,291.9 868.8,289.6 870.8,287.8C872.8,286.0 874.8,283.3 876.3,282.0C877.8,280.7 878.6,280.9 879.9,279.9C881.2,278.8 882.5,276.7 884.0,275.8C885.5,274.9 887.6,274.5 889.0,274.3C890.4,274.2 891.2,274.6 892.5,274.9C893.8,275.3 895.6,276.1 897.0,276.5C898.4,276.8 899.7,277.6 901.0,277.2C902.4,276.8 903.7,275.3 905.1,274.0C906.5,272.7 907.9,271.3 909.6,269.5C911.2,267.8 913.2,265.3 915.0,263.7C916.8,262.0 918.6,261.0 920.4,259.6C922.2,258.3 924.0,257.1 925.8,255.6C927.6,254.1 929.4,252.2 931.2,250.6C933.0,249.1 934.8,247.7 936.6,246.1C938.4,244.6 940.2,242.9 942.0,241.2C943.8,239.5 945.7,237.4 947.4,235.8C949.0,234.2 950.4,232.6 951.9,231.7C953.4,230.8 954.9,230.8 956.4,230.4C957.8,230.0 958.5,230.1 960.4,229.5C962.4,229.0 965.6,228.6 968.2,227.3C970.8,226.0 973.4,222.9 976.0,221.6C978.6,220.3 981.3,220.0 984.0,219.2C986.7,218.4 989.3,217.6 992.0,216.8C994.7,216.0 997.7,214.8 1000.0,214.4C1002.3,214.0 1003.0,214.9 1005.8,214.2C1008.6,213.5 1013.5,211.5 1017.0,210.2C1020.5,208.9 1023.4,207.3 1026.6,206.2C1029.8,205.1 1033.5,204.0 1036.2,203.5C1038.9,202.9 1040.2,203.5 1042.6,203.0C1045.0,202.5 1048.2,200.9 1050.6,200.6C1053.0,200.3 1055.4,201.1 1057.0,201.4C1058.6,201.7 1058.9,201.8 1060.0,202.4C1061.1,203.1 1062.3,204.5 1063.9,205.4C1065.4,206.4 1067.6,207.7 1069.2,208.1C1070.9,208.5 1072.3,207.7 1073.9,207.9C1075.4,208.0 1076.6,208.8 1078.4,209.0C1080.3,209.3 1083.0,209.7 1085.0,209.4C1087.1,209.1 1089.2,208.4 1090.8,207.3C1092.4,206.2 1093.3,204.2 1094.7,202.9C1096.1,201.5 1097.5,200.7 1099.2,199.1C1101.0,197.5 1103.3,195.3 1105.1,193.3C1106.8,191.4 1108.1,190.1 1109.8,187.5C1111.6,184.9 1113.8,180.3 1115.5,177.7C1117.1,175.2 1118.4,174.0 1119.8,172.1C1121.2,170.2 1122.4,168.7 1123.7,166.6C1125.1,164.4 1126.6,161.6 1127.9,159.1C1129.2,156.6 1130.4,153.9 1131.6,151.7C1132.9,149.5 1134.0,147.2 1135.3,146.0C1136.6,144.8 1137.8,144.8 1139.3,144.7C1140.9,144.5 1143.0,144.3 1144.7,145.1C1146.3,145.8 1148.6,148.6 1149.4,149.3" fill="none" stroke="#e8a92c" stroke-width="2.1" stroke-linejoin="round"/>
<path d="M83.6,345.5C85.0,345.0 89.0,343.3 91.8,342.0C94.6,340.7 97.4,339.4 100.2,337.8C103.0,336.2 105.8,334.4 108.6,332.4C111.4,330.4 114.2,328.1 117.0,325.8C119.8,323.5 123.3,320.2 125.4,318.6C127.5,317.1 127.5,317.5 129.6,316.5C131.7,315.5 135.2,313.9 138.0,312.6C140.8,311.4 143.6,310.1 146.4,309.0C149.2,307.9 151.9,306.9 154.8,306.0C157.8,305.2 161.3,304.5 164.1,303.8C166.9,303.1 169.3,302.3 171.7,301.6C174.0,300.9 176.1,300.4 178.3,299.7C180.6,299.1 182.8,298.4 185.0,297.7C187.2,297.1 189.4,296.6 191.7,296.0C193.9,295.4 196.1,294.9 198.3,294.0C200.6,293.1 202.8,292.0 205.0,290.7C207.2,289.3 209.4,287.6 211.7,286.0C213.9,284.4 216.1,282.9 218.3,281.3C220.6,279.8 222.8,278.1 225.0,276.7C227.2,275.2 229.4,273.9 231.7,272.7C233.9,271.4 236.1,270.3 238.3,269.3C240.6,268.3 242.8,267.4 245.0,266.7C247.2,265.9 249.8,265.1 251.7,264.7C253.5,264.2 254.3,264.4 256.0,264.0C257.7,263.6 260.0,262.5 262.0,262.0C264.0,261.5 265.8,261.1 268.0,260.8C270.2,260.5 273.2,260.1 275.0,260.2C276.8,260.3 277.5,260.7 279.0,261.5C280.5,262.3 282.2,263.6 284.0,265.0C285.8,266.4 287.6,268.2 290.0,270.0C292.4,271.8 296.1,274.1 298.4,275.6C300.7,277.1 302.4,278.1 304.0,279.0C305.6,279.9 306.5,280.2 307.8,281.0C309.1,281.8 310.7,282.7 312.0,283.5C313.3,284.3 313.8,284.5 315.8,285.8C317.8,287.1 321.1,289.4 323.8,291.4C326.5,293.4 329.1,295.5 331.8,297.8C334.5,300.1 337.1,302.6 339.8,305.0C342.5,307.4 345.1,309.8 347.8,312.2C350.5,314.6 353.3,317.2 355.8,319.4C358.3,321.6 360.5,323.9 363.0,325.5C365.5,327.0 368.9,327.9 371.0,328.7C373.1,329.5 373.6,329.4 375.5,330.1C377.4,330.9 380.2,332.2 382.4,333.2C384.6,334.2 386.7,335.4 388.8,336.4C390.9,337.4 393.1,338.5 395.2,339.1C397.3,339.8 399.5,340.1 401.6,340.4C403.7,340.7 405.9,340.9 408.0,340.9C410.1,340.9 412.3,340.7 414.4,340.4C416.5,340.1 418.4,339.4 420.8,338.8C423.2,338.2 426.1,337.7 428.8,336.9C431.5,336.1 434.1,335.0 436.8,334.0C439.5,333.0 442.1,331.8 444.8,330.8C447.5,329.8 450.1,328.8 452.8,327.9C455.5,327.1 458.1,326.4 460.8,325.7C463.5,325.0 466.4,324.2 468.8,323.6C471.2,323.0 473.3,322.5 475.2,322.0C477.1,321.5 478.2,321.3 480.0,320.9C481.8,320.4 483.7,320.0 486.0,319.3C488.3,318.5 491.3,317.5 494.0,316.4C496.7,315.3 499.3,313.9 502.0,312.4C504.7,310.9 507.3,308.9 510.0,307.3C512.7,305.7 515.3,304.1 518.0,302.8C520.7,301.5 523.3,300.8 526.0,299.6C528.7,298.4 531.3,297.1 534.0,295.6C536.7,294.1 539.3,292.3 542.0,290.8C544.7,289.3 547.3,287.9 550.0,286.5C552.7,285.0 555.3,283.7 558.0,282.0C560.7,280.3 563.3,278.3 566.0,276.4C568.7,274.5 571.3,272.7 574.0,270.8C576.7,268.9 579.3,267.0 582.0,265.2C584.7,263.4 587.2,261.6 590.0,259.9C592.8,258.2 596.2,256.2 599.0,255.0C601.8,253.8 604.3,253.4 607.0,252.6C609.7,251.8 612.3,250.8 615.0,250.2C617.7,249.6 620.3,249.1 623.0,248.9C625.7,248.7 628.3,248.6 631.0,248.9C633.7,249.3 636.3,249.9 639.0,251.0C641.7,252.1 644.3,253.8 647.0,255.8C649.7,257.8 652.3,260.3 655.0,263.0C657.7,265.7 660.3,269.1 663.0,271.8C665.7,274.5 668.3,276.9 671.0,279.0C673.7,281.1 676.3,283.0 679.0,284.6C681.7,286.2 684.3,287.5 687.0,288.6C689.7,289.7 692.6,290.6 695.0,291.5C697.4,292.4 699.4,293.5 701.6,294.1C703.8,294.8 705.9,295.1 708.0,295.4C710.1,295.7 712.3,296.1 714.4,296.2C716.5,296.3 718.7,296.5 720.8,296.2C722.9,295.9 725.1,295.3 727.2,294.6C729.3,293.9 731.5,292.9 733.6,291.9C735.7,290.8 737.9,289.6 740.0,288.2C742.1,286.8 744.3,285.1 746.4,283.4C748.5,281.7 750.7,279.5 752.8,277.8C754.9,276.1 757.1,274.6 759.2,273.3C761.3,272.0 763.5,271.1 765.6,270.1C767.7,269.1 769.6,268.4 772.0,267.4C774.4,266.4 777.4,264.7 780.0,264.2C782.6,263.7 785.0,264.5 787.6,264.6C790.2,264.7 793.2,264.7 795.6,264.8C798.0,264.8 799.9,264.9 802.0,264.8C804.1,264.6 806.3,264.2 808.4,263.8C810.5,263.4 812.7,262.6 814.8,262.2C816.9,261.8 818.5,261.5 821.2,261.4C823.9,261.3 827.6,261.6 830.8,261.6C834.0,261.5 837.2,261.4 840.4,261.2C843.6,261.1 847.3,260.8 850.0,260.6C852.7,260.4 854.3,260.2 856.4,260.0C858.5,259.7 860.7,260.0 862.8,259.3C864.9,258.6 867.1,257.1 869.2,255.8C871.3,254.5 873.5,253.0 875.6,251.8C877.7,250.6 879.6,250.1 882.0,248.6C884.4,247.1 886.9,245.4 890.0,243.0C893.1,240.6 897.8,236.6 900.8,234.4C903.8,232.2 905.6,231.5 908.0,229.6C910.4,227.7 912.9,225.2 915.2,223.2C917.5,221.2 919.5,219.3 921.6,217.6C923.7,215.9 925.9,214.5 928.0,213.1C930.1,211.8 932.3,210.6 934.4,209.6C936.5,208.6 938.7,208.1 940.8,207.2C942.9,206.3 945.1,205.1 947.2,204.0C949.3,202.9 951.5,202.0 953.6,200.8C955.7,199.6 957.9,198.8 960.0,196.8C962.1,194.8 964.3,191.1 966.4,188.8C968.5,186.5 970.7,184.7 972.8,183.2C974.9,181.7 977.1,180.7 979.2,180.0C981.3,179.3 983.5,179.3 985.6,178.9C987.7,178.4 989.6,178.0 992.0,177.3C994.4,176.5 997.2,175.0 1000.0,174.4C1002.8,173.8 1006.2,174.0 1009.0,173.7C1011.8,173.4 1014.3,173.0 1017.0,172.6C1019.7,172.2 1022.3,171.8 1025.0,171.5C1027.7,171.1 1030.3,170.6 1033.0,170.5C1035.7,170.4 1038.3,170.7 1041.0,171.0C1043.7,171.3 1046.6,171.9 1049.0,172.1C1051.4,172.3 1053.3,172.3 1055.4,172.1C1057.5,171.9 1059.7,171.7 1061.8,171.0C1063.9,170.3 1066.1,169.1 1068.2,167.8C1070.3,166.5 1072.3,164.2 1074.6,163.0C1076.9,161.8 1080.1,161.3 1082.2,160.7C1084.2,160.1 1085.0,160.2 1086.7,159.2C1088.4,158.1 1090.9,155.9 1092.6,154.4C1094.2,152.8 1095.2,151.4 1096.7,150.0C1098.1,148.6 1099.3,147.4 1101.1,145.8C1102.9,144.3 1105.4,142.1 1107.3,140.7C1109.3,139.2 1110.9,138.4 1112.7,137.3C1114.4,136.2 1116.2,135.1 1118.0,134.0C1119.8,132.9 1121.6,131.7 1123.3,130.7C1125.1,129.7 1126.9,128.8 1128.7,128.0C1130.4,127.2 1132.2,126.6 1134.0,126.0C1135.8,125.4 1137.6,124.8 1139.3,124.7C1141.1,124.5 1143.0,124.8 1144.7,125.1C1146.3,125.3 1148.6,125.8 1149.4,126.0" fill="none" stroke="#383838" stroke-width="2" stroke-linejoin="round"/>
<circle cx="395.9" cy="320.1" r="1.9" fill="#000"/>
<rect x="206" y="232" width="159.0" height="158.0" fill="none" stroke="#000000" stroke-width="4"/>
<rect x="606" y="232" width="56.0" height="112.0" fill="none" stroke="#000000" stroke-width="4"/>
<rect x="751" y="244" width="39.9" height="68.3" fill="none" stroke="#000000" stroke-width="3.9"/>
<rect x="962.2" y="133.7" width="42.8" height="92.0" fill="none" stroke="#000000" stroke-width="3.9"/>
<rect x="368.9" y="233.9" width="235.0" height="157.1" fill="none" stroke="#5bcc6e" stroke-width="3.8"/>
<rect x="667.9" y="179" width="234.9" height="156.8" fill="none" stroke="#5bcc6e" stroke-width="3.8"/>
<rect x="906.1" y="100" width="235.1" height="156.9" fill="none" stroke="#5bcc6e" stroke-width="3.8"/>
<rect x="1142.0" y="39.1" width="203.0" height="156.8" fill="none" stroke="#5bcc6e" stroke-width="3.8"/>
<rect x="1116" y="101.85" width="34.9" height="69.0" fill="none" stroke="#000000" stroke-width="3.8"/>
<circle cx="64" cy="63.4" r="37.4" fill="#ffffff" stroke="#3a7fc3" stroke-width="2.2"/>
<path d="M45.2,63.8 L73,45.2 L73,83 Z" fill="#3d85c8"/>
</svg>
<div class="t" style="left:118px;top:25.5px;width:280px;height:31.5px;background:rgba(253,253,253,0.93)"></div>
<div class="t" style="left:119px;top:58px;width:51px;height:44px;background:rgba(253,253,253,0.93)"></div>
<div class="t" style="left:123.6px;top:32.2px;font-size:21.5px;letter-spacing:0.3px;color:#000">Germany 30 Cash (€25) (-)</div>
<div class="t" style="left:123.4px;top:71.9px;font-size:21.4px;letter-spacing:0.2px;color:#000">1Mo</div>
<div class="t ax" style="top:57px">15000.0</div>
<div class="t ax" style="top:175px">10000.0</div>
<div class="t ax" style="top:291.5px">5000.0</div>
<div class="t ax" style="top:409px">0.0</div>
<div class="t" style="left:1226.5px;top:127px;width:101.3px;height:39.6px;background:#4a6083;border-radius:4.5px;"></div>
<div class="t" style="right:20px;top:137.5px;width:100px;text-align:right;color:#fff;font-size:21.3px;letter-spacing:0.35px;">11554.8</div>
<div class="t" style="left:8.5px;top:576px;width:177.5px;height:41.2px;border:1.5px solid #c3c3cc;border-radius:5px;background:#fdfdfd;box-sizing:border-box"></div>
<div class="t bo" style="left:20.8px;color:#55555a;letter-spacing:0.3px">BOLL</div>
<div class="t bo" style="left:90.6px;color:#222">20</div>
<div class="t bo" style="left:129.4px;color:#222">2</div>
<svg class="t" style="left:152px;top:585.5px" width="20" height="20" viewBox="0 0 20 20"><path d="M3.4 3.8 L16.6 17 M16.6 3.8 L3.4 17" stroke="#55555f" stroke-width="4.2" fill="none"/></svg>
<div class="t" style="left:2px;top:648.5px;width:606px;height:30.5px;background:rgba(253,253,253,0.93)"></div>
<div class="t inf" style="left:10.6px;color:#3b7dbe">9096.3</div>
<div class="t inf" style="left:98.4px;color:#3b7dbe">370.00%</div>
<div class="t inf" style="left:197.6px;color:#1c1c1c">H 13601.2</div>
<div class="t inf" style="left:309.8px;color:#1c1c1c">T 2188.8</div>
<div class="t inf" style="left:408.6px;color:#70707a;letter-spacing:0.13px">Febr. 1996 - Jul. 2022</div>
<div class="t" style="left:10.8px;top:691.8px;font-size:16.9px;color:#828288">Daten sind indikativ</div>
<div class="t xl" style="left:164px">2000</div>
<div class="t xl" style="left:416px">2005</div>
<div class="t xl" style="left:668px">2010</div>
<div class="t xl" style="left:920px">2015</div>
<div class="t xl" style="left:1171.6px">2020</div>
<div style="position:absolute;left:0;top:0;width:1334px;height:2px;background:#acada8"></div>
<div style="position:absolute;left:0;top:0;width:2.1px;height:750px;background:#acada8"></div>
<div style="position:absolute;left:1332.4px;top:0;width:1.6px;height:750px;background:#acada8"></div>
<div style="position:absolute;left:0;top:747.6px;width:1334px;height:2.4px;background:#acada8"></div>
</body></html>
